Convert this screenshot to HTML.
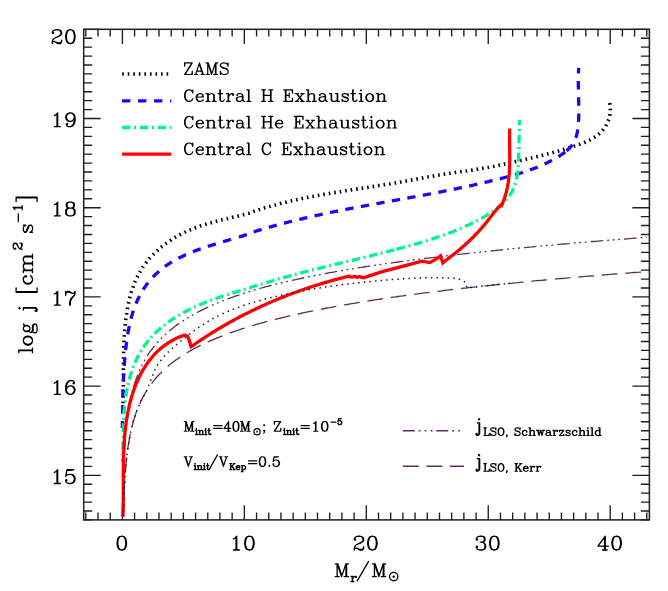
<!DOCTYPE html>
<html><head><meta charset="utf-8"><title>log j vs M_r</title>
<style>html,body{margin:0;padding:0;background:#fff;font-family:"Liberation Sans",sans-serif;}svg{display:block}</style></head>
<body>
<svg width="668" height="591" viewBox="0 0 668 591">
<rect width="100%" height="100%" fill="#fff"/>
<defs><clipPath id="cp"><rect x="84.5" y="30.1" width="564.1" height="486.6"/></clipPath></defs>
<path d="M85.81 519.90 v-7.30 M85.81 29.30 v7.30 M98.01 519.90 v-7.30 M98.01 29.30 v7.30 M110.21 519.90 v-7.30 M110.21 29.30 v7.30 M122.40 519.90 v-14.70 M122.40 29.30 v14.70 M134.59 519.90 v-7.30 M134.59 29.30 v7.30 M146.79 519.90 v-7.30 M146.79 29.30 v7.30 M158.99 519.90 v-7.30 M158.99 29.30 v7.30 M171.18 519.90 v-7.30 M171.18 29.30 v7.30 M183.38 519.90 v-7.30 M183.38 29.30 v7.30 M195.57 519.90 v-7.30 M195.57 29.30 v7.30 M207.77 519.90 v-7.30 M207.77 29.30 v7.30 M219.96 519.90 v-7.30 M219.96 29.30 v7.30 M232.16 519.90 v-7.30 M232.16 29.30 v7.30 M244.35 519.90 v-14.70 M244.35 29.30 v14.70 M256.55 519.90 v-7.30 M256.55 29.30 v7.30 M268.74 519.90 v-7.30 M268.74 29.30 v7.30 M280.94 519.90 v-7.30 M280.94 29.30 v7.30 M293.13 519.90 v-7.30 M293.13 29.30 v7.30 M305.33 519.90 v-7.30 M305.33 29.30 v7.30 M317.52 519.90 v-7.30 M317.52 29.30 v7.30 M329.72 519.90 v-7.30 M329.72 29.30 v7.30 M341.91 519.90 v-7.30 M341.91 29.30 v7.30 M354.11 519.90 v-7.30 M354.11 29.30 v7.30 M366.30 519.90 v-14.70 M366.30 29.30 v14.70 M378.50 519.90 v-7.30 M378.50 29.30 v7.30 M390.69 519.90 v-7.30 M390.69 29.30 v7.30 M402.88 519.90 v-7.30 M402.88 29.30 v7.30 M415.08 519.90 v-7.30 M415.08 29.30 v7.30 M427.27 519.90 v-7.30 M427.27 29.30 v7.30 M439.47 519.90 v-7.30 M439.47 29.30 v7.30 M451.66 519.90 v-7.30 M451.66 29.30 v7.30 M463.86 519.90 v-7.30 M463.86 29.30 v7.30 M476.06 519.90 v-7.30 M476.06 29.30 v7.30 M488.25 519.90 v-14.70 M488.25 29.30 v14.70 M500.45 519.90 v-7.30 M500.45 29.30 v7.30 M512.64 519.90 v-7.30 M512.64 29.30 v7.30 M524.84 519.90 v-7.30 M524.84 29.30 v7.30 M537.03 519.90 v-7.30 M537.03 29.30 v7.30 M549.23 519.90 v-7.30 M549.23 29.30 v7.30 M561.42 519.90 v-7.30 M561.42 29.30 v7.30 M573.62 519.90 v-7.30 M573.62 29.30 v7.30 M585.81 519.90 v-7.30 M585.81 29.30 v7.30 M598.00 519.90 v-7.30 M598.00 29.30 v7.30 M610.20 519.90 v-14.70 M610.20 29.30 v14.70 M622.39 519.90 v-7.30 M622.39 29.30 v7.30 M634.59 519.90 v-7.30 M634.59 29.30 v7.30 M646.78 519.90 v-7.30 M646.78 29.30 v7.30 M83.70 519.90 h8.50 M649.40 519.90 h-8.50 M83.70 510.98 h8.50 M649.40 510.98 h-8.50 M83.70 502.06 h8.50 M649.40 502.06 h-8.50 M83.70 493.14 h8.50 M649.40 493.14 h-8.50 M83.70 484.22 h8.50 M649.40 484.22 h-8.50 M83.70 475.30 h17.00 M649.40 475.30 h-17.00 M83.70 466.38 h8.50 M649.40 466.38 h-8.50 M83.70 457.46 h8.50 M649.40 457.46 h-8.50 M83.70 448.54 h8.50 M649.40 448.54 h-8.50 M83.70 439.62 h8.50 M649.40 439.62 h-8.50 M83.70 430.70 h8.50 M649.40 430.70 h-8.50 M83.70 421.78 h8.50 M649.40 421.78 h-8.50 M83.70 412.86 h8.50 M649.40 412.86 h-8.50 M83.70 403.94 h8.50 M649.40 403.94 h-8.50 M83.70 395.02 h8.50 M649.40 395.02 h-8.50 M83.70 386.10 h17.00 M649.40 386.10 h-17.00 M83.70 377.18 h8.50 M649.40 377.18 h-8.50 M83.70 368.26 h8.50 M649.40 368.26 h-8.50 M83.70 359.34 h8.50 M649.40 359.34 h-8.50 M83.70 350.42 h8.50 M649.40 350.42 h-8.50 M83.70 341.50 h8.50 M649.40 341.50 h-8.50 M83.70 332.58 h8.50 M649.40 332.58 h-8.50 M83.70 323.66 h8.50 M649.40 323.66 h-8.50 M83.70 314.74 h8.50 M649.40 314.74 h-8.50 M83.70 305.82 h8.50 M649.40 305.82 h-8.50 M83.70 296.90 h17.00 M649.40 296.90 h-17.00 M83.70 287.98 h8.50 M649.40 287.98 h-8.50 M83.70 279.06 h8.50 M649.40 279.06 h-8.50 M83.70 270.14 h8.50 M649.40 270.14 h-8.50 M83.70 261.22 h8.50 M649.40 261.22 h-8.50 M83.70 252.30 h8.50 M649.40 252.30 h-8.50 M83.70 243.38 h8.50 M649.40 243.38 h-8.50 M83.70 234.46 h8.50 M649.40 234.46 h-8.50 M83.70 225.54 h8.50 M649.40 225.54 h-8.50 M83.70 216.62 h8.50 M649.40 216.62 h-8.50 M83.70 207.70 h17.00 M649.40 207.70 h-17.00 M83.70 198.78 h8.50 M649.40 198.78 h-8.50 M83.70 189.86 h8.50 M649.40 189.86 h-8.50 M83.70 180.94 h8.50 M649.40 180.94 h-8.50 M83.70 172.02 h8.50 M649.40 172.02 h-8.50 M83.70 163.10 h8.50 M649.40 163.10 h-8.50 M83.70 154.18 h8.50 M649.40 154.18 h-8.50 M83.70 145.26 h8.50 M649.40 145.26 h-8.50 M83.70 136.34 h8.50 M649.40 136.34 h-8.50 M83.70 127.42 h8.50 M649.40 127.42 h-8.50 M83.70 118.50 h17.00 M649.40 118.50 h-17.00 M83.70 109.58 h8.50 M649.40 109.58 h-8.50 M83.70 100.66 h8.50 M649.40 100.66 h-8.50 M83.70 91.74 h8.50 M649.40 91.74 h-8.50 M83.70 82.82 h8.50 M649.40 82.82 h-8.50 M83.70 73.90 h8.50 M649.40 73.90 h-8.50 M83.70 64.98 h8.50 M649.40 64.98 h-8.50 M83.70 56.06 h8.50 M649.40 56.06 h-8.50 M83.70 47.14 h8.50 M649.40 47.14 h-8.50 M83.70 38.22 h8.50 M649.40 38.22 h-8.50 M83.70 29.30 h17.00 M649.40 29.30 h-17.00" stroke="#1e1e1e" stroke-width="1.35" fill="none"/>
<rect x="83.70" y="29.30" width="565.70" height="490.60" fill="none" stroke="#1e1e1e" stroke-width="1.5"/>
<g clip-path="url(#cp)" fill="none" stroke-linejoin="round">
<path d="M123.0 499.7 L123.0 497.6 L123.1 495.6 L123.1 493.6 L123.2 491.5 L123.2 489.5 L123.2 487.5 L123.3 485.4 L123.3 483.4 L123.4 481.4 L123.4 479.3 L123.5 477.3 L123.5 475.3 L123.6 473.2 L123.7 471.2 L123.7 469.2 L123.8 467.1 L123.9 465.1 L124.0 463.1 L124.1 461.0 L124.1 459.0 L124.2 457.0 L124.3 454.9 L124.4 452.9 L124.6 450.9 L124.7 448.8 L124.8 446.8 L124.9 444.8 L125.1 442.7 L125.2 440.7 L125.3 438.7 L125.5 436.6 L125.7 434.6 L125.9 432.6 L126.0 430.5 L126.2 428.5 L126.4 426.5 L126.7 424.5 L126.9 422.4 L127.1 420.4 L127.4 418.4 L127.7 416.3 L127.9 414.3 L128.2 412.3 L128.5 410.2 L128.9 408.2 L129.2 406.2 L129.6 404.1 L130.0 402.1 L130.4 400.1 L130.8 398.0 L131.3 396.0 L131.8 394.0 L132.3 391.9 L132.8 389.9 L133.3 387.9 L133.9 385.8 L134.6 383.8 L135.2 381.8 L135.9 379.7 L136.6 377.7 L137.4 375.7 L138.2 373.6 L139.1 371.6 L140.0 369.6 L140.9 367.5 L141.9 365.5 L142.9 363.5 L144.1 361.4 L145.2 359.4 L146.5 357.4 L147.7 355.3 L149.1 353.2 L150.5 351.2 L152.1 349.1 L153.7 347.0 L155.3 344.9 L157.1 342.9 L159.0 340.8 L161.0 338.7 L163.9 335.8 L166.3 333.6 L168.7 331.4 L171.2 329.4 L173.6 327.5 L176.1 325.6 L178.5 323.9 L180.9 322.2 L183.4 320.6 L185.8 319.0 L188.3 317.5 L190.7 316.1 L193.1 314.7 L195.6 313.3 L198.0 312.0 L200.4 310.8 L202.9 309.6 L205.3 308.4 L207.8 307.2 L210.2 306.1 L212.6 305.1 L215.1 304.0 L217.5 303.0 L220.0 302.0 L222.4 301.0 L224.8 300.0 L227.3 299.1 L229.7 298.2 L232.2 297.3 L234.6 296.4 L237.0 295.6 L239.5 294.8 L241.9 294.0 L244.4 293.2 L246.8 292.4 L249.2 291.6 L251.7 290.9 L254.1 290.1 L256.5 289.4 L259.0 288.7 L261.4 288.0 L263.9 287.3 L266.3 286.7 L268.7 286.0 L271.2 285.4 L273.6 284.8 L276.1 284.2 L278.5 283.6 L280.9 283.0 L283.4 282.4 L285.8 281.8 L288.3 281.3 L290.7 280.7 L293.1 280.2 L295.6 279.6 L298.0 279.1 L300.4 278.6 L302.9 278.0 L305.3 277.5 L307.8 277.0 L310.2 276.5 L312.6 276.0 L315.1 275.5 L317.5 275.1 L320.0 274.6 L322.4 274.1 L324.8 273.7 L327.3 273.2 L329.7 272.7 L332.2 272.3 L334.6 271.9 L337.0 271.4 L339.5 271.0 L341.9 270.6 L344.3 270.2 L346.8 269.7 L349.2 269.3 L351.7 268.9 L354.1 268.5 L356.5 268.1 L359.0 267.7 L361.4 267.4 L363.9 267.0 L366.3 266.6 L368.7 266.2 L371.2 265.8 L373.6 265.5 L376.1 265.1 L378.5 264.8 L380.9 264.4 L383.4 264.0 L385.8 263.7 L388.3 263.3 L390.7 263.0 L393.1 262.7 L395.6 262.3 L398.0 262.0 L400.4 261.6 L402.9 261.3 L405.3 261.0 L407.8 260.7 L410.2 260.3 L412.6 260.0 L415.1 259.7 L417.5 259.4 L420.0 259.1 L422.4 258.8 L424.8 258.5 L427.3 258.2 L429.7 257.9 L432.2 257.6 L434.6 257.3 L437.0 257.0 L439.5 256.7 L441.9 256.4 L444.3 256.1 L446.8 255.8 L449.2 255.5 L451.7 255.3 L454.1 255.0 L456.5 254.7 L459.0 254.4 L461.4 254.2 L463.9 253.9 L466.3 253.6 L468.7 253.3 L471.2 253.1 L473.6 252.8 L476.1 252.5 L478.5 252.3 L480.9 252.0 L483.4 251.7 L485.8 251.5 L488.2 251.2 L490.7 251.0 L493.1 250.7 L495.6 250.5 L498.0 250.2 L500.4 250.0 L502.9 249.7 L505.3 249.5 L507.8 249.2 L510.2 249.0 L512.6 248.7 L515.1 248.5 L517.5 248.3 L520.0 248.0 L522.4 247.8 L524.8 247.6 L527.3 247.3 L529.7 247.1 L532.2 246.9 L534.6 246.6 L537.0 246.4 L539.5 246.2 L541.9 245.9 L544.3 245.7 L546.8 245.5 L549.2 245.3 L551.7 245.1 L554.1 244.8 L556.5 244.6 L559.0 244.4 L561.4 244.2 L563.9 244.0 L566.3 243.8 L568.7 243.6 L571.2 243.3 L573.6 243.1 L576.1 242.9 L578.5 242.7 L580.9 242.5 L583.4 242.3 L585.8 242.1 L588.2 241.9 L590.7 241.7 L593.1 241.5 L595.6 241.3 L598.0 241.1 L600.4 240.9 L602.9 240.7 L605.3 240.5 L607.8 240.3 L610.2 240.1 L612.6 239.9 L615.1 239.7 L617.5 239.6 L620.0 239.4 L622.4 239.2 L624.8 239.0 L627.3 238.8 L629.7 238.6 L632.2 238.4 L634.6 238.2 L637.0 238.1 L639.5 237.9 L641.9 237.7 L644.3 237.5 L646.8 237.3" stroke="#5c2e61" stroke-width="1.3" stroke-dasharray="12.6 4 1.9 3.6 1.9 3.6 1.9 4" stroke-dashoffset="20.21"/>
<path d="M122.9 405.9 L122.9 404.9 L123.0 403.8 L123.0 402.7 L123.0 401.7 L123.1 400.6 L123.1 399.6 L123.1 398.5 L123.2 397.5 L123.2 396.4 L123.2 395.3 L123.2 394.3 L123.2 393.2 L123.3 392.2 L123.3 391.1 L123.3 390.0 L123.3 389.0 L123.3 387.9 L123.3 386.9 L123.3 385.8 L123.3 384.7 L123.4 383.7 L123.4 382.6 L123.4 381.6 L123.4 380.5 L123.4 379.4 L123.4 378.4 L123.4 377.3 L123.4 376.3 L123.4 375.2 L123.4 374.1 L123.4 373.1 L123.4 372.0 L123.4 370.9 L123.4 369.9 L123.4 368.8 L123.4 367.8 L123.4 366.7 L123.4 365.6 L123.4 364.6 L123.4 363.5 L123.5 362.4 L123.5 361.4 L123.5 360.3 L123.5 359.2 L123.5 358.2 L123.5 357.1 L123.5 356.0 L123.6 355.0 L123.6 353.9 L123.6 352.9 L123.6 351.8 L123.7 350.7 L123.7 349.7 L123.7 348.6 L123.7 347.5 L123.8 346.4 L123.8 345.4 L123.9 344.3 L123.9 343.2 L124.0 342.2 L124.0 341.1 L124.1 340.0 L124.1 339.0 L124.2 337.9 L124.2 336.8 L124.3 335.8 L124.4 334.7 L124.5 333.6 L124.5 332.6 L124.6 331.5 L124.7 330.4 L124.8 329.3 L124.9 328.3 L125.0 327.2 L125.1 326.1 L125.2 325.1 L125.3 324.0 L125.4 322.9 L125.5 321.8 L125.7 320.8 L125.8 319.7 L125.9 318.6 L126.1 317.5 L126.2 316.5 L126.3 315.4 L126.5 314.3 L126.7 313.2 L126.8 312.2 L127.0 311.1 L127.2 310.0 L127.4 309.0 L127.6 307.9 L127.8 306.8 L128.0 305.8 L128.2 304.7 L128.4 303.6 L128.6 302.6 L128.9 301.5 L129.1 300.5 L129.3 299.4 L129.6 298.4 L129.9 297.3 L130.1 296.3 L130.4 295.2 L130.7 294.2 L131.0 293.2 L131.3 292.1 L131.6 291.1 L131.9 290.1 L132.3 289.1 L132.6 288.1 L133.0 287.1 L133.3 286.1 L133.7 285.1 L134.1 284.1 L134.5 283.1 L134.9 282.1 L135.3 281.1 L135.7 280.2 L136.1 279.2 L136.6 278.2 L137.0 277.3 L137.5 276.4 L138.0 275.4 L138.4 274.5 L138.9 273.6 L139.5 272.7 L140.0 271.8 L140.5 270.9 L141.1 270.0 L141.6 269.1 L142.2 268.2 L142.7 267.3 L143.3 266.5 L143.9 265.6 L144.5 264.8 L145.2 263.9 L145.8 263.1 L146.4 262.3 L147.1 261.4 L147.7 260.6 L148.4 259.8 L149.1 259.0 L149.7 258.2 L150.4 257.5 L151.1 256.7 L151.9 255.9 L152.6 255.2 L153.3 254.4 L154.0 253.7 L154.8 252.9 L155.6 252.2 L156.3 251.5 L157.1 250.8 L157.9 250.1 L158.7 249.4 L159.5 248.7 L160.3 248.0 L161.1 247.3 L161.9 246.6 L162.7 246.0 L163.5 245.3 L164.4 244.7 L165.2 244.0 L166.1 243.4 L167.0 242.8 L167.8 242.2 L168.7 241.6 L169.6 241.0 L170.5 240.4 L171.4 239.8 L172.3 239.2 L173.2 238.7 L174.1 238.1 L175.0 237.5 L175.9 237.0 L176.8 236.5 L177.8 235.9 L178.7 235.4 L179.7 234.9 L180.6 234.4 L181.6 233.9 L182.5 233.4 L183.5 232.9 L184.4 232.5 L185.4 232.0 L186.4 231.5 L187.4 231.1 L188.4 230.6 L189.3 230.2 L190.3 229.8 L191.3 229.4 L192.3 228.9 L193.3 228.5 L194.3 228.2 L195.3 227.8 L196.4 227.4 L197.4 227.0 L198.4 226.7 L199.4 226.3 L200.4 225.9 L201.5 225.6 L202.5 225.3 L203.5 224.9 L204.5 224.6 L205.6 224.3 L206.6 224.0 L207.7 223.7 L208.7 223.4 L209.7 223.1 L210.8 222.8 L211.8 222.5 L212.9 222.2 L213.9 221.9 L214.9 221.7 L216.0 221.4 L217.0 221.1 L218.1 220.8 L219.1 220.6 L220.2 220.3 L221.2 220.1 L222.3 219.8 L223.3 219.6 L224.4 219.3 L225.4 219.0 L226.4 218.8 L227.5 218.6 L228.5 218.3 L229.6 218.1 L230.6 217.8 L231.6 217.6 L232.7 217.3 L233.7 217.1 L234.8 216.8 L235.8 216.6 L236.8 216.4 L237.8 216.1 L238.9 215.9 L239.9 215.6 L240.9 215.4 L241.9 215.1 L242.9 214.9 L243.9 214.6 L245.0 214.3 L246.0 214.1 L247.0 213.8 L248.0 213.5 L248.9 213.3 L249.9 213.0 L251.2 212.3 L252.5 211.9 L253.7 211.4 L255.0 211.0 L256.2 210.6 L257.5 210.2 L258.7 209.8 L260.0 209.4 L261.2 209.0 L262.5 208.6 L263.8 208.2 L265.0 207.8 L266.3 207.5 L267.5 207.1 L268.8 206.7 L270.1 206.4 L271.3 206.0 L272.6 205.7 L273.9 205.3 L275.1 205.0 L276.4 204.6 L277.7 204.3 L278.9 204.0 L280.2 203.6 L281.5 203.3 L282.8 203.0 L284.0 202.7 L285.3 202.4 L286.6 202.1 L287.9 201.7 L289.2 201.4 L290.4 201.1 L291.7 200.8 L293.0 200.6 L294.3 200.3 L295.6 200.0 L296.8 199.7 L298.1 199.4 L299.4 199.1 L300.7 198.9 L302.0 198.6 L303.3 198.3 L304.6 198.1 L305.8 197.8 L307.1 197.6 L308.4 197.3 L309.7 197.0 L311.0 196.8 L312.3 196.5 L313.6 196.3 L314.9 196.1 L316.2 195.8 L317.5 195.6 L318.8 195.3 L320.0 195.1 L321.3 194.9 L322.6 194.6 L323.9 194.4 L325.2 194.2 L326.5 193.9 L327.8 193.7 L329.1 193.5 L330.4 193.3 L331.7 193.1 L333.0 192.8 L334.3 192.6 L335.6 192.4 L336.9 192.2 L338.2 192.0 L339.5 191.8 L340.8 191.6 L342.1 191.3 L343.4 191.1 L344.7 190.9 L346.0 190.7 L347.3 190.5 L348.6 190.3 L349.9 190.1 L351.2 189.9 L352.5 189.7 L353.8 189.5 L355.1 189.3 L356.4 189.1 L357.7 188.9 L359.0 188.7 L360.3 188.5 L361.6 188.3 L362.9 188.1 L364.2 187.9 L365.5 187.7 L366.8 187.5 L368.1 187.3 L369.4 187.1 L370.7 186.9 L372.0 186.7 L373.3 186.5 L374.6 186.3 L375.9 186.1 L377.2 185.9 L378.5 185.6 L379.8 185.4 L381.1 185.2 L382.4 185.0 L383.7 184.8 L385.0 184.6 L386.3 184.4 L387.6 184.2 L388.9 184.0 L390.2 183.8 L391.5 183.5 L392.8 183.3 L394.1 183.1 L395.4 182.9 L396.7 182.7 L398.0 182.4 L399.3 182.2 L400.6 182.0 L401.9 181.8 L403.2 181.5 L404.5 181.3 L405.8 181.1 L407.1 180.8 L408.4 180.6 L409.6 180.4 L410.9 180.1 L412.2 179.9 L413.5 179.6 L414.8 179.4 L416.1 179.2 L417.4 178.9 L418.7 178.7 L420.0 178.5 L421.3 178.2 L422.6 178.0 L423.9 177.7 L425.2 177.5 L426.4 177.3 L427.7 177.0 L429.0 176.8 L430.3 176.6 L431.6 176.3 L432.9 176.1 L434.2 175.9 L435.5 175.6 L436.8 175.4 L438.1 175.2 L439.4 175.0 L440.7 174.8 L442.0 174.5 L443.3 174.3 L444.6 174.1 L445.9 173.9 L447.2 173.7 L448.5 173.5 L449.8 173.3 L451.1 173.1 L452.4 172.9 L453.7 172.7 L455.0 172.5 L456.3 172.3 L457.6 172.1 L458.9 172.0 L460.2 171.8 L461.5 171.6 L462.8 171.4 L464.1 171.2 L465.4 171.0 L466.7 170.9 L468.0 170.7 L469.4 170.5 L470.7 170.3 L472.0 170.1 L473.3 169.9 L474.6 169.7 L475.9 169.5 L477.2 169.3 L478.5 169.1 L479.8 168.9 L481.1 168.7 L482.4 168.4 L483.7 168.2 L484.9 168.0 L486.2 167.7 L487.5 167.5 L488.8 167.3 L490.1 167.0 L491.4 166.8 L492.7 166.5 L494.0 166.3 L495.3 166.0 L496.6 165.8 L497.8 165.5 L499.1 165.2 L500.4 165.0 L501.7 164.7 L503.0 164.4 L504.3 164.1 L505.6 163.9 L506.8 163.6 L508.1 163.3 L509.4 163.0 L510.7 162.7 L512.0 162.5 L513.2 162.2 L514.5 161.9 L515.8 161.6 L517.1 161.3 L518.3 161.0 L519.6 160.7 L520.9 160.4 L522.2 160.1 L523.5 159.8 L524.7 159.5 L526.0 159.2 L527.3 158.9 L528.6 158.6 L529.8 158.3 L531.1 158.0 L532.4 157.7 L533.7 157.4 L534.9 157.1 L536.2 156.8 L537.5 156.5 L538.7 156.2 L540.0 155.9 L541.3 155.6 L542.6 155.2 L543.8 154.9 L545.1 154.6 L546.4 154.3 L547.7 153.9 L548.9 153.6 L550.2 153.3 L551.5 152.9 L552.7 152.6 L554.0 152.2 L555.3 151.9 L556.6 151.5 L557.8 151.2 L559.1 150.8 L560.4 150.4 L561.6 150.1 L562.9 149.7 L564.2 149.3 L565.5 148.9 L566.7 148.6 L568.0 148.2 L569.3 147.8 L570.5 147.4 L571.8 147.0 L573.1 146.6 L574.4 146.1 L575.6 145.7 L576.9 145.3 L578.2 144.8 L579.4 144.4 L580.7 143.9 L581.9 143.5 L583.2 143.0 L584.4 142.5 L585.6 142.0 L586.8 141.4 L588.0 140.9 L589.2 140.3 L590.4 139.7 L591.5 139.1 L592.6 138.4 L593.7 137.8 L594.8 137.1 L595.9 136.4 L596.9 135.6 L597.9 134.8 L598.9 134.0 L599.8 133.2 L600.7 132.3 L601.6 131.4 L602.5 130.4 L603.3 129.5 L604.0 128.5 L604.8 127.5 L605.5 126.4 L606.1 125.3 L606.7 124.2 L607.3 123.1 L607.8 121.9 L608.3 120.7 L608.8 119.5 L609.1 118.3 L609.5 117.0 L609.7 115.7 L610.0 114.4 L610.1 113.0 L610.3 111.6 L610.3 110.2 L610.3 108.8 L610.2 107.3 L610.1 105.9 L609.9 104.3 L609.7 102.8" stroke="#000" stroke-width="3.6" stroke-dasharray="1.6 3.95" stroke-dashoffset="2.82"/>
<path d="M122.3 428.0 L122.3 426.9 L122.3 425.8 L122.4 424.8 L122.4 423.7 L122.4 422.6 L122.4 421.6 L122.4 420.5 L122.4 419.4 L122.5 418.3 L122.5 417.3 L122.5 416.2 L122.5 415.1 L122.5 414.1 L122.5 413.0 L122.6 411.9 L122.6 410.9 L122.6 409.8 L122.6 408.8 L122.6 407.7 L122.6 406.6 L122.7 405.6 L122.7 404.5 L122.7 403.5 L122.7 402.4 L122.7 401.3 L122.8 400.3 L122.8 399.2 L122.8 398.2 L122.8 397.1 L122.9 396.1 L122.9 395.0 L122.9 393.9 L123.0 392.9 L123.0 391.8 L123.0 390.8 L123.0 389.7 L123.1 388.7 L123.1 387.6 L123.2 386.6 L123.2 385.5 L123.2 384.4 L123.3 383.4 L123.3 382.3 L123.4 381.3 L123.4 380.2 L123.5 379.2 L123.5 378.1 L123.6 377.1 L123.6 376.0 L123.7 374.9 L123.7 373.9 L123.8 372.8 L123.8 371.8 L123.9 370.7 L124.0 369.7 L124.0 368.6 L124.1 367.5 L124.2 366.5 L124.3 365.4 L124.3 364.4 L124.4 363.3 L124.5 362.2 L124.6 361.2 L124.7 360.1 L124.8 359.1 L124.9 358.0 L124.9 356.9 L125.0 355.9 L125.1 354.8 L125.3 353.7 L125.4 352.7 L125.5 351.6 L125.6 350.5 L125.7 349.5 L125.8 348.4 L125.9 347.3 L126.1 346.2 L126.2 345.2 L126.3 344.1 L126.5 343.0 L126.6 341.9 L126.8 340.9 L126.9 339.8 L127.1 338.7 L127.2 337.7 L127.4 336.6 L127.6 335.5 L127.7 334.4 L127.9 333.4 L128.1 332.3 L128.3 331.2 L128.5 330.2 L128.7 329.1 L128.9 328.0 L129.1 327.0 L129.3 325.9 L129.6 324.9 L129.8 323.8 L130.0 322.8 L130.3 321.7 L130.5 320.7 L130.8 319.6 L131.1 318.6 L131.3 317.6 L131.6 316.5 L131.9 315.5 L132.2 314.5 L132.5 313.4 L132.8 312.4 L133.2 311.4 L133.5 310.4 L133.8 309.4 L134.2 308.4 L134.6 307.4 L134.9 306.4 L135.3 305.4 L135.7 304.4 L136.1 303.4 L136.5 302.5 L136.9 301.5 L137.3 300.5 L137.8 299.6 L138.2 298.6 L138.7 297.7 L139.1 296.8 L139.6 295.8 L140.1 294.9 L140.6 294.0 L141.1 293.1 L141.6 292.2 L142.2 291.3 L142.7 290.4 L143.3 289.5 L143.8 288.6 L144.4 287.7 L145.0 286.9 L145.6 286.0 L146.2 285.2 L146.8 284.3 L147.5 283.5 L148.1 282.7 L148.8 281.8 L149.4 281.0 L150.1 280.2 L150.8 279.4 L151.5 278.6 L152.2 277.9 L152.9 277.1 L153.6 276.3 L154.4 275.6 L155.1 274.8 L155.9 274.1 L156.6 273.4 L157.4 272.7 L158.2 272.0 L159.0 271.3 L159.8 270.6 L160.6 269.9 L161.4 269.2 L162.2 268.6 L163.1 267.9 L163.9 267.3 L164.8 266.7 L165.6 266.0 L166.5 265.4 L167.4 264.8 L168.2 264.2 L169.1 263.7 L170.0 263.1 L170.9 262.5 L171.8 262.0 L172.7 261.4 L173.7 260.9 L174.6 260.4 L175.5 259.8 L176.5 259.3 L177.4 258.8 L178.4 258.3 L179.3 257.8 L180.3 257.3 L181.2 256.9 L182.2 256.4 L183.2 255.9 L184.2 255.5 L185.1 255.0 L186.1 254.6 L187.1 254.1 L188.1 253.7 L189.1 253.3 L190.1 252.9 L191.1 252.5 L192.1 252.1 L193.1 251.7 L194.1 251.3 L195.1 250.9 L196.1 250.5 L197.1 250.1 L198.1 249.7 L199.2 249.4 L200.2 249.0 L201.2 248.7 L202.2 248.3 L203.2 247.9 L204.3 247.6 L205.3 247.3 L206.3 246.9 L207.3 246.6 L208.3 246.2 L209.4 245.9 L210.4 245.6 L211.4 245.3 L212.4 244.9 L213.5 244.6 L214.5 244.3 L215.5 244.0 L216.5 243.7 L217.6 243.4 L218.6 243.1 L219.6 242.8 L220.6 242.5 L221.7 242.1 L222.7 241.8 L223.7 241.5 L224.7 241.2 L225.8 240.9 L226.8 240.6 L227.8 240.3 L228.8 240.0 L229.8 239.7 L230.9 239.4 L231.9 239.1 L232.9 238.8" stroke="#2200ff" stroke-width="3.3" stroke-dasharray="8.39441 7.50559" stroke-dashoffset="1.39"/>
<path d="M232.9 238.8 L233.9 238.5 L234.9 238.2 L235.9 237.9 L236.9 237.6 L237.9 237.3 L239.0 237.0 L240.0 236.7 L241.0 236.4 L242.0 236.1 L243.0 235.8 L244.0 235.4 L244.9 235.1 L245.9 234.8 L246.9 234.5 L247.9 234.2 L248.9 233.8 L249.9 233.5 L251.2 232.6 L252.5 232.2 L253.9 231.8 L255.2 231.4 L256.5 231.0 L257.8 230.6 L259.2 230.2 L260.5 229.8 L261.8 229.4 L263.2 229.0 L264.5 228.6 L265.8 228.2 L267.2 227.8 L268.5 227.4 L269.8 227.0 L271.2 226.7 L272.5 226.3 L273.8 225.9 L275.2 225.6 L276.5 225.2 L277.8 224.8 L279.2 224.5 L280.5 224.1 L281.9 223.8 L283.2 223.4 L284.6 223.1 L285.9 222.7 L287.2 222.4 L288.6 222.0 L289.9 221.7 L291.3 221.4 L292.6 221.0 L294.0 220.7 L295.3 220.4 L296.7 220.0 L298.0 219.7 L299.4 219.4 L300.7 219.1 L302.1 218.8 L303.4 218.4 L304.8 218.1 L306.1 217.8 L307.5 217.5 L308.8 217.2 L310.2 216.9 L311.5 216.6 L312.9 216.3 L314.2 216.0 L315.6 215.7 L316.9 215.4 L318.3 215.1 L319.7 214.8 L321.0 214.5 L322.4 214.2 L323.7 213.9 L325.1 213.6 L326.4 213.4 L327.8 213.1 L329.2 212.8 L330.5 212.5 L331.9 212.2 L333.2 211.9 L334.6 211.7 L336.0 211.4 L337.3 211.1 L338.7 210.8 L340.0 210.6 L341.4 210.3 L342.8 210.0 L344.1 209.8 L345.5 209.5 L346.9 209.2 L348.2 209.0 L349.6 208.7 L350.9 208.4 L352.3 208.2 L353.7 207.9 L355.0 207.7 L356.4 207.4 L357.8 207.1 L359.1 206.9 L360.5 206.6 L361.9 206.4 L363.2 206.1 L364.6 205.9 L366.0 205.6 L367.3 205.4 L368.7 205.1 L370.1 204.9 L371.4 204.6 L372.8 204.4 L374.2 204.1 L375.5 203.9 L376.9 203.6 L378.3 203.4 L379.6 203.1 L381.0 202.9 L382.4 202.6 L383.7 202.4 L385.1 202.1 L386.5 201.9 L387.8 201.6 L389.2 201.4 L390.6 201.1 L391.9 200.9 L393.3 200.6 L394.7 200.4 L396.0 200.1 L397.4 199.9 L398.8 199.6 L400.1 199.4 L401.5 199.1 L402.9 198.9 L404.3 198.7 L405.6 198.4 L407.0 198.2 L408.4 197.9 L409.7 197.7 L411.1 197.4 L412.5 197.2 L413.8 196.9 L415.2 196.7 L416.6 196.4 L417.9 196.2 L419.3 195.9 L420.7 195.7 L422.0 195.4 L423.4 195.1 L424.8 194.9 L426.1 194.6 L427.5 194.4 L428.9 194.1 L430.2 193.9 L431.6 193.6 L433.0 193.3 L434.3 193.1 L435.7 192.8 L437.0 192.6 L438.4 192.3 L439.8 192.0 L441.1 191.8 L442.5 191.5 L443.9 191.2 L445.2 191.0 L446.6 190.7 L447.9 190.4 L449.3 190.2 L450.7 189.9 L452.0 189.6 L453.4 189.3 L454.8 189.0 L456.1 188.8 L457.5 188.5 L458.8 188.2 L460.2 187.9 L461.6 187.6 L462.9 187.4 L464.3 187.1 L465.6 186.8 L467.0 186.5 L468.3 186.2 L469.7 185.9 L471.1 185.6 L472.4 185.3 L473.8 185.0 L475.1 184.7 L476.5 184.4 L477.8 184.1 L479.2 183.8 L480.5 183.5 L481.9 183.2 L483.2 182.8 L484.6 182.5 L485.9 182.2 L487.3 181.9 L488.6 181.6 L490.0 181.2 L491.3 180.9 L492.7 180.6 L494.0 180.3 L495.4 179.9 L496.7 179.6 L498.1 179.3 L499.4 178.9 L500.8 178.6 L502.1 178.2 L503.5 177.9 L504.8 177.5 L506.1 177.2 L507.5 176.8 L508.8 176.5 L510.2 176.1 L511.5 175.7 L512.8 175.3 L514.2 175.0 L515.5 174.6 L516.8 174.2 L518.2 173.8 L519.5 173.4 L520.8 173.0 L522.1 172.6 L523.4 172.1 L524.8 171.7 L526.1 171.3 L527.4 170.8 L528.7 170.4 L530.0 169.9 L531.3 169.4 L532.6 169.0 L533.9 168.5 L535.2 168.0 L536.5 167.5 L537.8 166.9 L539.1 166.4 L540.3 165.9 L541.6 165.3 L542.9 164.7 L544.2 164.2 L545.4 163.6 L546.7 163.0 L547.9 162.4 L549.2 161.7 L550.4 161.1 L551.7 160.4 L552.9 159.8 L554.1 159.1 L555.3 158.4 L556.6 157.7 L557.8 157.0 L559.0 156.2 L560.2 155.5 L561.4 154.7 L562.5 153.9 L563.7 153.1 L564.8 152.2 L565.9 151.4" stroke="#2200ff" stroke-width="3.3" stroke-dasharray="8.31522 7.43478" stroke-dashoffset="9.52"/>
<path d="M565.9 151.4 L567.0 150.5 L568.0 149.5 L569.0 148.6 L569.9 147.6 L570.8 146.6 L571.7 145.5 L572.5 144.4 L573.2 143.3 L573.8 142.2 L574.5 141.0 L575.0 139.7 L575.5 138.5 L576.0 137.2 L576.4 135.9 L576.8 134.5 L577.1 133.2 L577.4 131.8 L577.6 130.4 L577.8 129.0 L578.0 127.6 L578.2 126.2 L578.3 124.8 L578.4 123.4 L578.5 121.9 L578.6 120.5 L578.7 119.1 L578.7 117.7 L578.7 116.2 L578.8 114.8 L578.8 113.4 L578.8 112.1 L578.8 110.7 L578.8 109.3 L578.8 107.9 L578.8 106.6 L578.7 105.2 L578.7 103.9 L578.7 102.5 L578.7 101.1 L578.6 99.8 L578.6 98.5 L578.6 97.1 L578.5 95.8 L578.5 94.4 L578.5 93.1 L578.4 91.7 L578.4 90.3 L578.4 89.0 L578.4 87.6 L578.3 86.3 L578.3 84.9 L578.3 83.5 L578.3 82.1 L578.3 80.7 L578.3 79.3 L578.3 77.9 L578.4 76.5 L578.4 75.1 L578.4 73.7 L578.5 72.2 L578.5 70.8 L578.6 69.3 L578.7 67.8" stroke="#2200ff" stroke-width="3.3" stroke-dasharray="8.5528 7.6472" stroke-dashoffset="15.40"/>
<path d="M122.6 461.8 L122.6 460.8 L122.7 459.8 L122.7 458.9 L122.7 457.9 L122.8 456.9 L122.8 455.9 L122.8 454.9 L122.8 453.9 L122.9 452.9 L122.9 451.9 L122.9 450.9 L122.9 449.9 L122.9 448.9 L123.0 447.9 L123.0 446.9 L123.0 445.9 L123.0 444.9 L123.0 443.9 L123.0 442.9 L123.1 441.9 L123.1 440.9 L123.1 439.9 L123.1 438.9 L123.1 437.8 L123.1 436.8 L123.2 435.8 L123.2 434.8 L123.2 433.8 L123.2 432.7 L123.2 431.7 L123.3 430.7 L123.3 429.7 L123.3 428.6 L123.3 427.6 L123.4 426.6 L123.4 425.6 L123.4 424.5 L123.5 423.5 L123.5 422.5 L123.6 421.5 L123.6 420.4 L123.7 419.4 L123.7 418.4 L123.8 417.3 L123.8 416.3 L123.9 415.3 L123.9 414.3 L124.0 413.2 L124.1 412.2 L124.2 411.2 L124.2 410.1 L124.3 409.1 L124.4 408.1 L124.5 407.1 L124.6 406.0 L124.7 405.0 L124.8 404.0 L124.9 402.9 L125.1 401.9 L125.2 400.9 L125.3 399.9 L125.4 398.8 L125.6 397.8 L125.7 396.8 L125.9 395.8 L126.0 394.8 L126.2 393.7 L126.4 392.7 L126.6 391.7 L126.7 390.7 L126.9 389.7 L127.1 388.7 L127.3 387.6 L127.5 386.6 L127.8 385.6 L128.0 384.6 L128.2 383.6 L128.5 382.6 L128.7 381.6 L128.9 380.6 L129.2 379.6 L129.5 378.6 L129.7 377.7 L130.0 376.7 L130.3 375.7 L130.6 374.7 L130.9 373.7 L131.2 372.8 L131.5 371.8 L131.9 370.8 L132.2 369.9 L132.5 368.9 L132.9 368.0 L133.2 367.0 L133.6 366.1 L134.0 365.1 L134.4 364.2 L134.8 363.3 L135.2 362.3 L135.6 361.4 L136.0 360.5 L136.4 359.6 L136.8 358.7 L137.3 357.8 L137.7 356.9 L138.2 356.0 L138.6 355.1 L139.1 354.2 L139.6 353.3 L140.1 352.5 L140.6 351.6 L141.1 350.8 L141.6 349.9 L142.2 349.1 L142.7 348.2 L143.3 347.4 L143.8 346.6 L144.4 345.8 L145.0 345.0 L145.6 344.2 L146.2 343.4 L146.8 342.6 L147.4 341.8 L148.0 341.0 L148.6 340.2 L149.3 339.5 L149.9 338.7 L150.6 338.0 L151.3 337.2 L151.9 336.5 L152.6 335.8 L153.3 335.0 L154.0 334.3 L154.7 333.6 L155.4 332.9 L156.2 332.2 L156.9 331.5 L157.6 330.8 L158.4 330.2 L159.1 329.5 L159.9 328.8 L160.6 328.2 L161.4 327.5 L162.2 326.9 L163.0 326.2 L163.8 325.6 L164.6 325.0 L165.4 324.3 L166.2 323.7 L167.0 323.1 L167.8 322.5 L168.6 321.9 L169.5 321.3 L170.3 320.7 L171.2 320.2 L172.0 319.6 L172.9 319.0 L173.7 318.4 L174.6 317.9 L175.4 317.3 L176.3 316.8 L177.2 316.3 L178.1 315.7 L178.9 315.2 L179.8 314.7 L180.7 314.2 L181.6 313.6 L182.5 313.1 L183.4 312.6 L184.3 312.1 L185.2 311.7 L186.2 311.2 L187.1 310.7 L188.0 310.2 L188.9 309.8 L189.8 309.3 L190.8 308.8 L191.7 308.4 L192.6 307.9 L193.6 307.5 L194.5 307.1 L195.4 306.6 L196.4 306.2 L197.3 305.8 L198.3 305.4 L199.2 305.0 L200.2 304.6 L201.1 304.2 L202.1 303.8 L203.0 303.4 L204.0 303.0 L204.9 302.6 L205.9 302.2 L206.8 301.8 L207.8 301.5 L208.8 301.1 L209.7 300.7 L210.7 300.4 L211.6 300.0 L212.6 299.7 L213.6 299.3 L214.5 299.0 L215.5 298.6 L216.5 298.3 L217.4 298.0 L218.4 297.6 L219.4 297.3 L220.4 297.0 L221.3 296.6 L222.3 296.3 L223.3 296.0 L224.2 295.7 L225.2 295.3 L226.2 295.0 L227.2 294.7 L228.1 294.4 L229.1 294.1 L230.1 293.8 L231.1 293.5 L232.0 293.2 L233.0 292.9 L234.0 292.6 L234.9 292.3 L235.9 292.0 L236.9 291.7 L237.8 291.4 L238.8 291.1 L239.8 290.8 L240.7 290.5 L241.7 290.2 L242.7 289.9 L243.6 289.6 L244.6 289.3 L245.6 289.0 L246.5 288.7 L247.5 288.4 L248.4 288.1 L249.4 287.8 L250.4 287.5 L251.3 287.2 L252.3 286.9 L253.2 286.6 L254.2 286.3 L255.1 286.0 L256.1 285.7 L257.0 285.4 L257.9 285.1 L258.9 284.8 L259.8 284.5 L261.1 284.2 L262.2 283.9 L263.3 283.5 L264.4 283.2 L265.5 282.9 L266.6 282.5 L267.8 282.2 L268.9 281.9 L270.0 281.5 L271.1 281.2 L272.2 280.9 L273.3 280.5 L274.4 280.2 L275.5 279.9 L276.6 279.6 L277.7 279.3 L278.8 278.9 L279.9 278.6 L281.0 278.3 L282.2 278.0 L283.3 277.7 L284.4 277.4 L285.5 277.1 L286.6 276.8 L287.7 276.5 L288.8 276.2 L289.9 275.9 L291.1 275.6 L292.2 275.3 L293.3 275.0 L294.4 274.7 L295.5 274.4 L296.6 274.1 L297.7 273.8 L298.9 273.5 L300.0 273.2 L301.1 272.9 L302.2 272.6 L303.3 272.3 L304.5 272.0 L305.6 271.7 L306.7 271.4 L307.8 271.2 L308.9 270.9 L310.1 270.6 L311.2 270.3 L312.3 270.0 L313.4 269.7 L314.5 269.5 L315.7 269.2 L316.8 268.9 L317.9 268.6 L319.0 268.3 L320.1 268.1 L321.3 267.8 L322.4 267.5 L323.5 267.2 L324.6 267.0 L325.8 266.7 L326.9 266.4 L328.0 266.1 L329.1 265.9 L330.3 265.6 L331.4 265.3 L332.5 265.0 L333.6 264.8 L334.8 264.5 L335.9 264.2 L337.0 263.9 L338.1 263.7 L339.3 263.4 L340.4 263.1 L341.5 262.9 L342.6 262.6 L343.7 262.3 L344.9 262.0 L346.0 261.8 L347.1 261.5 L348.2 261.2 L349.4 261.0 L350.5 260.7 L351.6 260.4 L352.7 260.2 L353.9 259.9 L355.0 259.6 L356.1 259.3 L357.2 259.1 L358.4 258.8 L359.5 258.5 L360.6 258.3 L361.7 258.0 L362.9 257.7 L364.0 257.4 L365.1 257.2 L366.2 256.9 L367.4 256.6 L368.5 256.3 L369.6 256.1 L370.7 255.8 L371.8 255.5 L373.0 255.2 L374.1 255.0 L375.2 254.7 L376.3 254.4 L377.5 254.1 L378.6 253.8 L379.7 253.6 L380.8 253.3 L381.9 253.0 L383.1 252.7 L384.2 252.4 L385.3 252.2 L386.4 251.9 L387.5 251.6 L388.7 251.3 L389.8 251.0 L390.9 250.7 L392.0 250.4 L393.1 250.2 L394.2 249.9 L395.4 249.6" stroke="#00f492" stroke-width="3.3" stroke-dasharray="8.55169 3.57978 1.88933 3.67921" stroke-dashoffset="5.57"/>
<path d="M395.4 249.6 L396.5 249.3 L397.6 249.0 L398.7 248.7 L399.8 248.4 L400.9 248.1 L402.0 247.8 L403.2 247.5 L404.3 247.2 L405.4 246.9 L406.5 246.6 L407.6 246.3 L408.7 246.0 L409.8 245.7 L410.9 245.4 L412.0 245.1 L413.2 244.8 L414.3 244.4 L415.4 244.1 L416.5 243.8 L417.6 243.5 L418.7 243.2 L419.8 242.8 L420.9 242.5 L422.0 242.2 L423.1 241.8 L424.2 241.5 L425.3 241.2 L426.4 240.8 L427.5 240.5 L428.6 240.2 L429.7 239.8 L430.8 239.5 L431.9 239.1 L433.0 238.7 L434.1 238.4 L435.2 238.0 L436.3 237.7 L437.3 237.3 L438.4 236.9 L439.5 236.5 L440.6 236.2 L441.7 235.8 L442.8 235.4 L443.9 235.0 L445.0 234.6 L446.0 234.2 L447.1 233.8 L448.2 233.4 L449.3 233.0 L450.3 232.6 L451.4 232.2 L452.5 231.7 L453.6 231.3 L454.6 230.9 L455.7 230.4 L456.8 230.0 L457.9 229.6 L458.9 229.1 L460.0 228.7 L461.0 228.2 L462.1 227.7 L463.2 227.3 L464.2 226.8 L465.3 226.3 L466.3 225.8 L467.4 225.4 L468.5 224.9 L469.5 224.4 L470.6 223.9 L471.6 223.4 L472.7 222.8 L473.7 222.3 L474.7 221.8 L475.8 221.3 L476.8 220.7 L477.9 220.2 L478.9 219.6 L479.9 219.1 L481.0 218.5 L482.0 218.0 L483.0 217.4 L484.1 216.8 L485.1 216.2 L486.1 215.6 L487.1 215.0 L488.1 214.4 L489.1 213.8 L490.1 213.2 L491.1 212.5 L492.1 211.9 L493.0 211.2 L494.0 210.6 L494.9 209.9 L495.8 209.2 L496.8 208.5 L497.7 207.8 L498.6 207.1 L499.4 206.4 L500.3 205.6 L501.2 204.9 L502.0 204.1 L502.8 203.3 L503.6 202.6 L504.4 201.8 L505.2 200.9 L505.9 200.1 L506.7 199.3 L507.4 198.4 L508.1 197.6 L508.7 196.7 L509.4 195.8 L510.0 194.9 L510.6 193.9 L511.2 193.0 L511.7 192.0 L512.3 191.0 L512.8 190.1 L513.2 189.0 L513.7 188.0 L514.1 187.0 L514.5 185.9 L514.9 184.8 L515.2 183.7 L515.6 182.6 L515.9 181.5 L516.1 180.4 L516.4 179.3 L516.7 178.1 L516.9 177.0 L517.1 175.8 L517.3 174.6 L517.4 173.4 L517.6 172.3 L517.8 171.1 L517.9 169.9 L518.0 168.7 L518.1 167.5 L518.2 166.2 L518.3 165.0 L518.4 163.8 L518.4 162.6 L518.5 161.4 L518.5 160.2 L518.6 159.0 L518.6 157.8 L518.6 156.6 L518.7 155.4 L518.7 154.2 L518.7 153.0 L518.7 151.8 L518.8 150.6 L518.8 149.5 L518.8 148.3 L518.8 147.2 L518.9 146.0 L518.9 144.9 L518.9 143.8 L519.0 142.6 L519.0 141.5 L519.0 140.4 L519.1 139.3 L519.1 138.2 L519.1 137.1 L519.2 136.0 L519.2 134.9 L519.2 133.8 L519.3 132.7 L519.3 131.6 L519.3 130.5 L519.3 129.3 L519.3 128.2 L519.4 127.1 L519.4 125.9 L519.4 124.7 L519.4 123.6 L519.4 122.4 L519.4 121.2 L519.3 119.9" stroke="#00f492" stroke-width="3.3" stroke-dasharray="8.74494 3.66067 1.93202 3.76236" stroke-dashoffset="16.92"/>
<path d="M122.7 521.7 L122.8 520.1 L122.9 518.3 L122.9 516.6 L123.0 514.9 L123.0 513.2 L123.1 511.5 L123.1 509.8 L123.2 508.0 L123.2 506.3 L123.2 504.6 L123.2 502.8 L123.3 501.1 L123.3 499.3 L123.3 497.6 L123.3 495.8 L123.3 494.1 L123.3 492.3 L123.3 490.5 L123.3 488.8 L123.3 487.0 L123.3 485.2 L123.3 483.4 L123.3 481.7 L123.3 479.9 L123.3 478.1 L123.3 476.3 L123.3 474.5 L123.3 472.8 L123.3 471.0 L123.3 469.2 L123.4 467.4 L123.4 465.6 L123.4 463.8 L123.4 462.0 L123.5 460.2 L123.5 458.5 L123.6 456.7 L123.6 454.9 L123.7 453.1 L123.7 451.3 L123.8 449.5 L123.9 447.7 L124.0 445.9 L124.1 444.2 L124.2 442.4 L124.3 440.6 L124.4 438.8 L124.6 437.0 L124.7 435.3 L124.9 433.5 L125.0 431.7 L125.2 430.0 L125.4 428.2 L125.6 426.4 L125.9 424.7 L126.1 422.9 L126.3 421.2 L126.6 419.4 L126.9 417.7 L127.2 416.0 L127.5 414.2 L127.8 412.5 L128.2 410.8 L128.5 409.0 L128.9 407.3 L129.3 405.6 L129.7 403.9 L130.1 402.2 L130.6 400.5 L131.0 398.8 L131.5 397.1 L132.0 395.4 L132.6 393.8 L133.1 392.1 L133.7 390.4 L134.3 388.8 L134.9 387.1 L135.5 385.5 L136.2 383.9 L136.9 382.2 L137.6 380.6 L138.3 379.0 L139.0 377.5 L139.8 375.9 L140.6 374.3 L141.4 372.8 L142.3 371.2 L143.2 369.7 L144.1 368.2 L145.0 366.8 L145.9 365.3 L146.9 363.9 L147.9 362.4 L149.0 361.0 L150.0 359.7 L151.1 358.3 L152.2 357.0 L153.4 355.7 L154.5 354.4 L155.7 353.1 L157.0 351.9 L158.2 350.7 L159.5 349.5 L160.9 348.3 L162.2 347.2 L163.6 346.1 L165.0 345.1 L166.5 344.1 L167.9 343.1 L169.4 342.1 L171.0 341.2 L172.6 340.3 L174.2 339.4 L175.8 338.6 L177.5 337.8 L179.2 337.1 L181.0 336.4 L182.8 335.7 L184.6 335.1 L184.2 335.1 L187.6 336.2 L189.8 341.8 L191.0 346.8 L191.1 346.9 L192.3 346.0 L193.5 345.2 L194.6 344.3 L195.8 343.5 L197.0 342.7 L198.2 341.8 L199.4 341.0 L200.7 340.2 L201.9 339.4 L203.1 338.6 L204.3 337.8 L205.5 337.0 L206.7 336.2 L208.0 335.4 L209.2 334.6 L210.4 333.8 L211.7 333.0 L212.9 332.3 L214.2 331.5 L215.4 330.7 L216.6 330.0 L217.9 329.2 L219.1 328.5 L220.4 327.7 L221.7 327.0 L222.9 326.2 L224.2 325.5 L225.5 324.8 L226.7 324.0 L228.0 323.3 L229.3 322.6 L230.5 321.9 L231.8 321.2 L233.1 320.5 L234.4 319.8 L235.7 319.1 L237.0 318.4 L238.3 317.7 L239.6 317.0 L240.8 316.3 L242.1 315.7 L243.4 315.0 L244.8 314.3 L246.1 313.7 L247.4 313.0 L248.7 312.4 L250.0 311.7 L251.3 311.1 L252.6 310.4 L253.9 309.8 L255.3 309.2 L256.6 308.5 L257.9 307.9 L259.2 307.3 L260.6 306.7 L261.9 306.1 L263.2 305.5 L264.6 304.9 L265.9 304.3 L267.2 303.7 L268.6 303.1 L269.9 302.5 L271.3 301.9 L272.6 301.3 L274.0 300.8 L275.3 300.2 L276.7 299.6 L278.0 299.1 L279.4 298.5 L280.7 298.0 L282.1 297.4 L283.5 296.9 L284.8 296.4 L286.2 295.8 L287.6 295.3 L288.9 294.8 L290.3 294.2 L291.7 293.7 L293.0 293.2 L294.4 292.7 L295.8 292.2 L297.2 291.7 L298.5 291.2 L299.9 290.7 L301.3 290.2 L302.7 289.8 L304.1 289.3 L305.4 288.8 L306.8 288.3 L308.2 287.9 L309.6 287.4 L311.0 286.9 L312.4 286.5 L313.8 286.0 L315.2 285.6 L316.6 285.2 L318.0 284.7 L319.4 284.3 L320.8 283.9 L322.2 283.4 L323.5 283.0 L324.9 282.6 L326.4 282.2 L327.8 281.8 L329.2 281.4 L330.6 281.0 L332.0 280.6 L333.4 280.2 L334.8 279.8 L336.2 279.4 L337.6 279.1 L339.0 278.7 L340.4 278.3 L341.8 277.9 L343.2 277.6 L344.6 277.2 L346.1 276.9 L347.5 276.5 L348.9 276.2 L349.0 276.6 L352.0 277.1 L354.5 276.5 L357.0 277.2 L359.5 276.7 L362.0 277.4 L363.7 277.8 L370.0 275.6 L382.4 271.6 L403.4 266.2 L412.7 263.6 L422.2 261.2 L429.6 262.6 L434.8 259.9 L440.6 255.9 L442.9 262.9 L447.0 259.5 L447.0 259.5 L448.0 258.7 L449.1 257.9 L450.1 257.1 L451.2 256.3 L452.2 255.5 L453.3 254.7 L454.3 253.9 L455.3 253.1 L456.3 252.2 L457.4 251.4 L458.4 250.6 L459.4 249.7 L460.4 248.9 L461.4 248.0 L462.4 247.1 L463.4 246.3 L464.4 245.4 L465.3 244.5 L466.3 243.6 L467.3 242.8 L468.2 241.9 L469.2 241.0 L470.2 240.1 L471.1 239.1 L472.0 238.2 L473.0 237.3 L473.9 236.4 L474.8 235.4 L475.7 234.5 L476.6 233.5 L477.5 232.6 L478.4 231.6 L479.3 230.7 L480.2 229.7 L481.1 228.7 L481.9 227.7 L482.8 226.7 L483.7 225.7 L484.5 224.7 L485.3 223.7 L486.2 222.7 L487.0 221.7 L487.8 220.6 L488.6 219.6 L489.4 218.5 L490.2 217.5 L491.0 216.4 L491.8 215.4 L492.6 214.4 L493.4 213.3 L494.2 212.3 L495.0 211.3 L495.9 210.3 L496.7 209.3 L497.6 208.4 L498.5 207.4 L499.4 206.5 L500.4 205.6 L501.3 204.7 L501.7 205.1 L502.2 203.8 L502.8 202.6 L503.3 201.4 L503.8 200.2 L504.2 198.9 L504.6 197.7 L505.1 196.4 L505.4 195.2 L505.8 193.9 L506.2 192.6 L506.5 191.4 L506.8 190.1 L507.1 188.8 L507.4 187.5 L507.6 186.2 L507.8 185.0 L508.1 183.7 L508.3 182.4 L508.4 181.1 L508.6 179.8 L508.8 178.5 L508.9 177.2 L509.0 175.9 L509.2 174.6 L509.3 173.2 L509.3 171.9 L509.4 170.6 L509.5 169.3 L509.6 168.0 L509.6 166.6 L509.6 165.3 L509.7 164.0 L509.7 162.7 L509.7 161.4 L509.7 160.0 L509.8 158.7 L509.8 157.4 L509.8 156.0 L509.7 154.7 L509.7 153.4 L509.7 152.1 L509.7 150.7 L509.7 149.4 L509.7 148.1 L509.7 146.8 L509.6 145.4 L509.6 144.1 L509.6 142.8 L509.6 141.5 L509.6 140.2 L509.6 138.9 L509.6 137.5 L509.6 136.2 L509.6 134.9 L509.6 133.6 L509.6 132.3 L509.6 131.0 L509.7 129.7 L509.7 128.4" stroke="#ff0000" stroke-width="3.3" stroke-linejoin="miter"/>
<path d="M123.0 533.3 L123.0 531.2 L123.1 529.2 L123.1 527.2 L123.2 525.2 L123.2 523.1 L123.2 521.1 L123.3 519.1 L123.3 517.0 L123.4 515.0 L123.4 513.0 L123.5 510.9 L123.5 508.9 L123.6 506.9 L123.7 504.8 L123.7 502.8 L123.8 500.8 L123.9 498.7 L124.0 496.7 L124.1 494.7 L124.1 492.6 L124.2 490.6 L124.3 488.6 L124.4 486.5 L124.6 484.5 L124.7 482.5 L124.8 480.4 L124.9 478.4 L125.1 476.4 L125.2 474.3 L125.3 472.3 L125.5 470.3 L125.7 468.2 L125.9 466.2 L126.0 464.2 L126.2 462.1 L126.4 460.1 L126.7 458.1 L126.9 456.0 L127.1 454.0 L127.4 452.0 L127.7 450.0 L127.9 447.9 L128.2 445.9 L128.5 443.9 L128.9 441.8 L129.2 439.8 L129.6 437.8 L130.0 435.7 L130.4 433.7 L130.8 431.7 L131.3 429.6 L131.8 427.6 L132.3 425.6 L132.8 423.5 L133.3 421.5 L133.9 419.5 L134.6 417.4 L135.2 415.4 L135.9 413.4 L136.6 411.3 L137.4 409.3 L138.2 407.3 L139.1 405.2 L140.0 403.2 L140.9 401.2 L141.9 399.1 L142.9 397.1 L144.1 395.1 L145.2 393.0 L146.5 391.0 L147.7 389.0 L149.1 386.9 L150.5 384.9 L152.1 382.9 L153.7 380.8 L155.3 378.8 L157.1 376.8 L159.0 374.8 L161.0 372.7 L163.9 369.9 L166.3 367.7 L168.7 365.6 L171.2 363.6 L173.6 361.7 L176.1 359.9 L178.5 358.2 L180.9 356.6 L183.4 355.0 L185.8 353.5 L188.3 352.0 L190.7 350.6 L193.1 349.2 L195.6 347.9 L198.0 346.6 L200.4 345.4 L202.9 344.2 L205.3 343.1 L207.8 341.9 L210.2 340.8 L212.6 339.8 L215.1 338.8 L217.5 337.7 L220.0 336.8 L222.4 335.8 L224.8 334.9 L227.3 334.0 L229.7 333.1 L232.2 332.2 L234.6 331.4 L237.0 330.5 L239.5 329.7 L241.9 328.9 L244.4 328.1 L246.8 327.4 L249.2 326.6 L251.7 325.9 L254.1 325.1 L256.5 324.4 L259.0 323.7 L261.4 323.0 L263.9 322.4 L266.3 321.7 L268.7 321.1 L271.2 320.4 L273.6 319.8 L276.1 319.2 L278.5 318.6 L280.9 318.0 L283.4 317.4 L285.8 316.8 L288.3 316.2 L290.7 315.6 L293.1 315.1 L295.6 314.5 L298.0 314.0 L300.4 313.5 L302.9 312.9 L305.3 312.4 L307.8 311.9 L310.2 311.4 L312.6 310.9 L315.1 310.4 L317.5 309.9 L320.0 309.4 L322.4 309.0 L324.8 308.5 L327.3 308.0 L329.7 307.6 L332.2 307.1 L334.6 306.7 L337.0 306.2 L339.5 305.8 L341.9 305.3 L344.3 304.9 L346.8 304.5 L349.2 304.1 L351.7 303.7 L354.1 303.3 L356.5 302.8 L359.0 302.4 L361.4 302.1 L363.9 301.7 L366.3 301.3 L368.7 300.9 L371.2 300.5 L373.6 300.1 L376.1 299.7 L378.5 299.4 L380.9 299.0 L383.4 298.6 L385.8 298.3 L388.3 297.9 L390.7 297.6 L393.1 297.2 L395.6 296.9 L398.0 296.5 L400.4 296.2 L402.9 295.9 L405.3 295.5 L407.8 295.2 L410.2 294.9 L412.6 294.5 L415.1 294.2 L417.5 293.9 L420.0 293.6 L422.4 293.2 L424.8 292.9 L427.3 292.6 L429.7 292.3 L432.2 292.0 L434.6 291.7 L437.0 291.4 L439.5 291.1 L441.9 290.8 L444.3 290.5 L446.8 290.2 L449.2 289.9 L451.7 289.6 L454.1 289.4 L456.5 289.1 L459.0 288.8 L461.4 288.5 L463.9 288.2 L466.3 288.0 L468.7 287.7 L471.2 287.4 L473.6 287.1 L476.1 286.9 L478.5 286.6 L480.9 286.3 L483.4 286.1 L485.8 285.8 L488.2 285.6 L490.7 285.3 L493.1 285.0 L495.6 284.8 L498.0 284.5 L500.4 284.3 L502.9 284.0 L505.3 283.8 L507.8 283.5 L510.2 283.3 L512.6 283.1 L515.1 282.8 L517.5 282.6 L520.0 282.3 L522.4 282.1 L524.8 281.9 L527.3 281.6 L529.7 281.4 L532.2 281.2 L534.6 280.9 L537.0 280.7 L539.5 280.5 L541.9 280.3 L544.3 280.0 L546.8 279.8 L549.2 279.6 L551.7 279.4 L554.1 279.1 L556.5 278.9 L559.0 278.7 L561.4 278.5 L563.9 278.3 L566.3 278.1 L568.7 277.9 L571.2 277.6 L573.6 277.4 L576.1 277.2 L578.5 277.0 L580.9 276.8 L583.4 276.6 L585.8 276.4 L588.2 276.2 L590.7 276.0 L593.1 275.8 L595.6 275.6 L598.0 275.4 L600.4 275.2 L602.9 275.0 L605.3 274.8 L607.8 274.6 L610.2 274.4 L612.6 274.2 L615.1 274.0 L617.5 273.8 L620.0 273.6 L622.4 273.5 L624.8 273.3 L627.3 273.1 L629.7 272.9 L632.2 272.7 L634.6 272.5 L637.0 272.3 L639.5 272.2 L641.9 272.0 L644.3 271.8 L646.8 271.6" stroke="#5c2e61" stroke-width="1.3" stroke-dasharray="15.7 7.9" stroke-dashoffset="10.31"/>
<path d="M123.0 533.3 L123.0 531.2 L123.1 529.2 L123.1 527.2 L123.2 525.2 L123.2 523.1 L123.2 521.1 L123.3 519.1 L123.3 517.0 L123.4 515.0 L123.4 513.0 L123.5 510.9 L123.5 508.9 L123.6 506.9 L123.7 504.8 L123.7 502.8 L123.8 500.8 L123.9 498.7 L124.0 496.7 L124.1 494.7 L124.1 492.6 L124.2 490.6 L124.3 488.6 L124.4 486.5 L124.6 484.5 L124.7 482.5 L124.8 480.4 L124.9 478.4 L125.1 476.4 L125.2 474.3 L125.3 472.3 L125.5 470.3 L125.7 468.2 L125.9 466.2 L126.0 464.2 L126.2 462.1 L126.4 460.1 L126.7 458.1 L126.9 456.0 L127.1 454.0 L127.4 452.0 L127.7 450.0 L127.9 447.9 L128.2 445.9 L128.5 443.9 L128.9 441.8 L129.2 439.8 L129.6 437.8 L130.0 435.7 L130.4 433.7 L130.8 431.7 L131.3 429.6 L131.8 427.6 L132.3 425.6 L132.8 423.5 L133.3 421.5 L133.9 419.5 L134.6 417.4 L135.2 415.4 L135.9 413.4 L136.6 411.3 L137.4 409.3 L138.2 407.3 L139.1 405.2 L140.0 403.2 L140.9 401.2 L141.9 399.1 L142.9 397.1 L144.1 395.1 L145.2 393.0 L146.5 391.0 L155.7 368.0 L156.4 366.7 L157.2 365.5 L158.0 364.2 L158.8 363.0 L159.7 361.9 L160.6 360.7 L161.5 359.6 L162.4 358.4 L163.3 357.3 L164.3 356.2 L165.3 355.2 L166.3 354.1 L167.3 353.1 L168.4 352.0 L169.4 351.0 L170.5 350.0 L171.6 349.0 L172.7 348.0 L173.8 347.0 L174.9 346.0 L176.0 345.1 L177.2 344.1 L178.3 343.2 L179.4 342.2 L180.6 341.3 L181.7 340.3 L182.9 339.4 L184.0 338.5 L185.2 337.6 L186.3 336.6 L187.5 335.7 L188.7 334.8 L189.9 333.9 L191.0 333.0 L192.2 332.2 L193.4 331.3 L194.6 330.4 L195.8 329.6 L197.0 328.7 L198.2 327.9 L199.4 327.0 L200.6 326.2 L201.9 325.4 L203.1 324.6 L204.3 323.8 L205.6 323.0 L206.8 322.2 L208.1 321.5 L209.3 320.7 L210.6 320.0 L211.9 319.2 L213.2 318.5 L214.4 317.8 L215.7 317.1 L217.0 316.5 L218.3 315.8 L219.7 315.1 L221.0 314.5 L222.3 313.9 L223.6 313.2 L225.0 312.6 L226.3 312.0 L227.7 311.5 L229.0 310.9 L230.4 310.3 L231.8 309.8 L233.1 309.2 L234.5 308.7 L235.9 308.2 L237.3 307.7 L238.7 307.2 L240.0 306.7 L241.4 306.2 L242.8 305.7 L244.2 305.2 L245.7 304.8 L247.1 304.3 L248.5 303.9 L249.9 303.4 L251.3 303.0 L252.7 302.6 L254.1 302.1 L255.6 301.7 L257.0 301.3 L258.4 300.9 L259.8 300.5 L261.3 300.1 L262.7 299.7 L264.1 299.4 L265.5 299.0 L267.0 298.6 L268.4 298.2 L269.8 297.9 L271.3 297.5 L272.7 297.2 L274.1 296.8 L275.6 296.5 L277.0 296.1 L278.4 295.8 L279.9 295.5 L281.3 295.1 L282.7 294.8 L284.2 294.5 L285.6 294.2 L287.0 293.9 L288.5 293.6 L289.9 293.3 L291.4 293.0 L292.8 292.7 L294.2 292.4 L295.7 292.1 L297.1 291.8 L298.6 291.5 L300.0 291.2 L301.4 291.0 L302.9 290.7 L304.3 290.4 L305.8 290.2 L307.2 289.9 L308.7 289.7 L310.1 289.4 L311.6 289.2 L313.0 288.9 L314.5 288.7 L315.9 288.5 L317.4 288.2 L318.8 288.0 L320.3 287.8 L321.7 287.5 L323.2 287.3 L324.6 287.1 L326.1 286.9 L327.5 286.7 L329.0 286.5 L330.5 286.3 L331.9 286.1 L333.4 285.9 L334.8 285.7 L336.3 285.5 L337.7 285.3 L339.2 285.1 L340.7 284.9 L342.1 284.7 L343.6 284.5 L345.1 284.3 L346.5 284.2 L348.0 284.0 L349.4 283.8 L350.9 283.6 L352.4 283.5 L353.8 283.3 L355.3 283.1 L356.8 283.0 L358.2 282.8 L359.7 282.7 L361.2 282.5 L362.6 282.4 L364.1 282.2 L365.6 282.1 L367.0 281.9 L368.5 281.8 L370.0 281.6 L371.5 281.5 L372.9 281.3 L374.4 281.2 L375.9 281.0 L377.3 280.9 L378.8 280.8 L380.3 280.6 L381.8 280.5 L383.2 280.4 L384.7 280.2 L386.2 280.1 L387.7 280.0 L389.1 279.9 L390.6 279.7 L392.1 279.6 L393.6 279.5 L395.1 279.4 L396.5 279.3 L398.0 279.2 L399.5 279.0 L401.0 278.9 L402.4 278.8 L403.9 278.7 L405.4 278.6 L406.9 278.6 L408.4 278.5 L409.8 278.4 L411.3 278.3 L412.8 278.2 L414.3 278.2 L415.7 278.1 L417.2 278.0 L418.7 278.0 L420.2 277.9 L421.6 277.9 L423.1 277.8 L424.6 277.8 L426.1 277.7 L427.5 277.7 L429.0 277.7 L430.5 277.7 L431.9 277.7 L433.4 277.7 L434.9 277.7 L436.3 277.7 L437.8 277.7 L439.3 277.7 L440.7 277.7 L442.2 277.8 L443.7 277.8 L445.1 277.8 L446.6 277.9 L448.1 277.9 L449.5 278.0 L451.0 278.1 L452.4 278.2 L453.9 278.3 L455.3 278.4 L456.7 278.6 L458.1 278.9 L459.4 279.2 L460.8 279.7 L462.0 280.2 L463.2 280.9 L464.4 281.7 L465.4 282.7 L466.4 283.8 L466.8 287.9 L468.3 287.7 L469.8 287.6 L471.3 287.4 L472.8 287.2 L474.2 287.1 L475.7 286.9 L477.2 286.7 L478.7 286.6 L480.2 286.4 L481.7 286.3 L483.2 286.1 L484.7 285.9 L486.2 285.8 L487.7 285.6 L489.1 285.5 L490.6 285.3 L492.1 285.2 L493.6 285.0 L495.1 284.8 L496.6 284.7 L498.1 284.5 L499.6 284.4 L501.1 284.2 L502.6 284.1 L504.0 283.9 L505.5 283.8 L507.0 283.6 L508.5 283.5 L510.0 283.3" stroke="#2c1236" stroke-width="1.5" stroke-dasharray="1.5 4.1"/>
</g>
<path transform="translate(115.12 550.00) scale(0.668 0.655)" d="M11 0 L14 -1 L16 -4 L17 -9 L17 -12 L16 -17 L14 -20 L11 -21 L9 -21 L6 -20 L4 -17 L3 -12 L3 -9 L4 -4 L6 -1 L9 0 L7 -1 L6 -2 L5 -4 L4 -9 L4 -12 L5 -17 L6 -19 L7 -20 L9 -21 M11 0 L9 0 M11 0 L13 -1 L14 -2 L15 -4 L16 -9 L16 -12 L15 -17 L14 -19 L13 -20 L11 -21" fill="none" stroke="#000" stroke-width="1.3" vector-effect="non-scaling-stroke" stroke-linecap="round" stroke-linejoin="round"/>
<path transform="translate(229.39 550.00) scale(0.668 0.655)" d="M11 0 L11 -21 L8 -18 L6 -17 M10 -20 L10 0 M6 0 L15 0 M31 0 L34 -1 L36 -4 L37 -9 L37 -12 L36 -17 L34 -20 L31 -21 L29 -21 L26 -20 L24 -17 L23 -12 L23 -9 L24 -4 L26 -1 L29 0 L27 -1 L26 -2 L25 -4 L24 -9 L24 -12 L25 -17 L26 -19 L27 -20 L29 -21 M31 0 L29 0 M31 0 L33 -1 L34 -2 L35 -4 L36 -9 L36 -12 L35 -17 L34 -19 L33 -20 L31 -21" fill="none" stroke="#000" stroke-width="1.3" vector-effect="non-scaling-stroke" stroke-linecap="round" stroke-linejoin="round"/>
<path transform="translate(352.34 550.00) scale(0.668 0.655)" d="M6 -3 L11 0 L15 0 L16 -1 L17 -3 L17 -5 M6 -3 L11 -1 L14 -1 L16 -2 L17 -3 M6 -3 L4 -3 L3 -2 M8 -9 L13 -11 L16 -13 L17 -15 L17 -17 L16 -19 L15 -20 L12 -21 L8 -21 L5 -20 L4 -19 L3 -17 L3 -16 L4 -15 L5 -16 L4 -17 M12 -21 L14 -20 L15 -19 L16 -17 L16 -15 L15 -13 L12 -11 L6 -8 L4 -6 L3 -3 L3 0 M31 0 L34 -1 L36 -4 L37 -9 L37 -12 L36 -17 L34 -20 L31 -21 L29 -21 L26 -20 L24 -17 L23 -12 L23 -9 L24 -4 L26 -1 L29 0 L27 -1 L26 -2 L25 -4 L24 -9 L24 -12 L25 -17 L26 -19 L27 -20 L29 -21 M31 0 L29 0 M31 0 L33 -1 L34 -2 L35 -4 L36 -9 L36 -12 L35 -17 L34 -19 L33 -20 L31 -21" fill="none" stroke="#000" stroke-width="1.3" vector-effect="non-scaling-stroke" stroke-linecap="round" stroke-linejoin="round"/>
<path transform="translate(474.29 550.00) scale(0.668 0.655)" d="M12 0 L8 0 L5 -1 L4 -2 L3 -4 L3 -5 L4 -6 L5 -5 L4 -4 M12 0 L15 -1 L16 -2 L17 -4 L17 -7 L16 -9 L14 -11 L12 -12 L15 -13 L16 -15 L16 -18 L15 -20 L12 -21 L8 -21 L5 -20 L4 -19 L3 -17 L3 -16 L4 -15 L5 -16 L4 -17 M12 0 L14 -1 L15 -2 L16 -4 L16 -7 L15 -10 M12 -21 L14 -20 L15 -18 L15 -15 L14 -13 L12 -12 L9 -12 M31 0 L34 -1 L36 -4 L37 -9 L37 -12 L36 -17 L34 -20 L31 -21 L29 -21 L26 -20 L24 -17 L23 -12 L23 -9 L24 -4 L26 -1 L29 0 L27 -1 L26 -2 L25 -4 L24 -9 L24 -12 L25 -17 L26 -19 L27 -20 L29 -21 M31 0 L29 0 M31 0 L33 -1 L34 -2 L35 -4 L36 -9 L36 -12 L35 -17 L34 -19 L33 -20 L31 -21" fill="none" stroke="#000" stroke-width="1.3" vector-effect="non-scaling-stroke" stroke-linecap="round" stroke-linejoin="round"/>
<path transform="translate(596.57 550.00) scale(0.668 0.655)" d="M13 0 L13 -21 L2 -6 L18 -6 M12 -19 L12 0 M9 0 L16 0 M31 0 L34 -1 L36 -4 L37 -9 L37 -12 L36 -17 L34 -20 L31 -21 L29 -21 L26 -20 L24 -17 L23 -12 L23 -9 L24 -4 L26 -1 L29 0 L27 -1 L26 -2 L25 -4 L24 -9 L24 -12 L25 -17 L26 -19 L27 -20 L29 -21 M31 0 L29 0 M31 0 L33 -1 L34 -2 L35 -4 L36 -9 L36 -12 L35 -17 L34 -19 L33 -20 L31 -21" fill="none" stroke="#000" stroke-width="1.3" vector-effect="non-scaling-stroke" stroke-linecap="round" stroke-linejoin="round"/>
<path transform="translate(50.33 483.50) scale(0.668 0.655)" d="M11 0 L11 -21 L8 -18 L6 -17 M10 -20 L10 0 M6 0 L15 0 M25 -20 L30 -20 L35 -21 L25 -21 L23 -11 L25 -13 L28 -14 L31 -14 L34 -13 L36 -11 L37 -8 L37 -6 L36 -3 L34 -1 L31 0 L28 0 L25 -1 L24 -2 L23 -4 L23 -5 L24 -6 L25 -5 L24 -4 M31 0 L33 -1 L35 -3 L36 -6 L36 -8 L35 -11 L33 -13 L31 -14" fill="none" stroke="#000" stroke-width="1.3" vector-effect="non-scaling-stroke" stroke-linecap="round" stroke-linejoin="round"/>
<path transform="translate(50.33 394.30) scale(0.668 0.655)" d="M11 0 L11 -21 L8 -18 L6 -17 M10 -20 L10 0 M6 0 L15 0 M31 0 L34 -1 L36 -3 L37 -6 L37 -7 L36 -10 L34 -12 L31 -13 L30 -13 L27 -12 L25 -10 L24 -7 M31 0 L29 0 L26 -1 L24 -3 L23 -6 L23 -12 L24 -16 L25 -18 L27 -20 L30 -21 L33 -21 L35 -20 L36 -18 L36 -17 L35 -16 L34 -17 L35 -18 M31 0 L33 -1 L35 -3 L36 -6 L36 -7 L35 -10 L33 -12 L31 -13 M30 -21 L28 -20 L26 -18 L25 -16 L24 -12 L24 -6 L25 -3 L27 -1 L29 0" fill="none" stroke="#000" stroke-width="1.3" vector-effect="non-scaling-stroke" stroke-linecap="round" stroke-linejoin="round"/>
<path transform="translate(50.33 305.10) scale(0.668 0.655)" d="M11 0 L11 -21 L8 -18 L6 -17 M10 -20 L10 0 M6 0 L15 0 M36 -15 L31 -10 L30 -8 L29 -5 L29 0 M36 -15 L32 -10 L31 -8 L30 -5 L30 0 M36 -15 L37 -18 L37 -21 L36 -19 L35 -18 L33 -18 L28 -21 L26 -21 L24 -19 L26 -20 L28 -20 L33 -18 M23 -21 L23 -15 M24 -19 L23 -17" fill="none" stroke="#000" stroke-width="1.3" vector-effect="non-scaling-stroke" stroke-linecap="round" stroke-linejoin="round"/>
<path transform="translate(50.33 215.90) scale(0.668 0.655)" d="M11 0 L11 -21 L8 -18 L6 -17 M10 -20 L10 0 M6 0 L15 0 M28 0 L32 0 L35 -1 L36 -2 L37 -4 L37 -8 L36 -10 L35 -11 L32 -12 L28 -12 L25 -11 L24 -10 L23 -8 L23 -4 L24 -2 L25 -1 L28 0 L26 -1 L25 -2 L24 -4 L24 -8 L25 -10 L26 -11 L28 -12 L25 -13 L24 -15 L24 -18 L25 -20 L28 -21 L32 -21 L35 -20 L36 -18 L36 -15 L35 -13 L32 -12 L34 -11 L35 -10 L36 -8 L36 -4 L35 -2 L34 -1 L32 0 M28 -12 L26 -13 L25 -15 L25 -18 L26 -20 L28 -21 M32 -12 L34 -13 L35 -15 L35 -18 L34 -20 L32 -21" fill="none" stroke="#000" stroke-width="1.3" vector-effect="non-scaling-stroke" stroke-linecap="round" stroke-linejoin="round"/>
<path transform="translate(50.33 126.70) scale(0.668 0.655)" d="M11 0 L11 -21 L8 -18 L6 -17 M10 -20 L10 0 M6 0 L15 0 M36 -14 L35 -11 L33 -9 L30 -8 L29 -8 L26 -9 L24 -11 L23 -14 L23 -15 L24 -18 L26 -20 L29 -21 L31 -21 L34 -20 L36 -18 L37 -15 L37 -9 L36 -5 L35 -3 L33 -1 L30 0 L27 0 L25 -1 L24 -3 L24 -4 L25 -5 L26 -4 L25 -3 M30 0 L32 -1 L34 -3 L35 -5 L36 -9 L36 -15 L35 -18 L33 -20 L31 -21 M29 -21 L27 -20 L25 -18 L24 -15 L24 -14 L25 -11 L27 -9 L29 -8" fill="none" stroke="#000" stroke-width="1.3" vector-effect="non-scaling-stroke" stroke-linecap="round" stroke-linejoin="round"/>
<path transform="translate(50.33 43.50) scale(0.668 0.655)" d="M6 -3 L11 0 L15 0 L16 -1 L17 -3 L17 -5 M6 -3 L11 -1 L14 -1 L16 -2 L17 -3 M6 -3 L4 -3 L3 -2 M8 -9 L13 -11 L16 -13 L17 -15 L17 -17 L16 -19 L15 -20 L12 -21 L8 -21 L5 -20 L4 -19 L3 -17 L3 -16 L4 -15 L5 -16 L4 -17 M12 -21 L14 -20 L15 -19 L16 -17 L16 -15 L15 -13 L12 -11 L6 -8 L4 -6 L3 -3 L3 0 M31 0 L34 -1 L36 -4 L37 -9 L37 -12 L36 -17 L34 -20 L31 -21 L29 -21 L26 -20 L24 -17 L23 -12 L23 -9 L24 -4 L26 -1 L29 0 L27 -1 L26 -2 L25 -4 L24 -9 L24 -12 L25 -17 L26 -19 L27 -20 L29 -21 M31 0 L29 0 M31 0 L33 -1 L34 -2 L35 -4 L36 -9 L36 -12 L35 -17 L34 -19 L33 -20 L31 -21" fill="none" stroke="#000" stroke-width="1.3" vector-effect="non-scaling-stroke" stroke-linecap="round" stroke-linejoin="round"/>
<path transform="translate(333.99 576.60) scale(0.63 0.61)" d="M19 -21 L12 0 L5 -21 L5 0 M19 -21 L19 0 M19 -21 L23 -21 M20 -21 L20 0 M12 -3 L6 -21 L2 -21 M16 0 L23 0 M2 0 L8 0" fill="none" stroke="#000" stroke-width="1.3" vector-effect="non-scaling-stroke" stroke-linecap="round" stroke-linejoin="round"/>
<path transform="translate(350.11 581.60) scale(0.42 0.37)" d="M6 0 L6 -14 L2 -14 M5 -14 L5 0 M2 0 L9 0 M6 -8 L7 -11 L9 -13 L11 -14 L14 -14 L15 -13 L15 -12 L14 -11 L13 -12 L14 -13" fill="none" stroke="#000" stroke-width="1.3" vector-effect="non-scaling-stroke" stroke-linecap="round" stroke-linejoin="round"/>
<path transform="translate(355.99 576.60) scale(0.63 0.61)" d="M20 -25 L2 7" fill="none" stroke="#000" stroke-width="1.3" vector-effect="non-scaling-stroke" stroke-linecap="round" stroke-linejoin="round"/>
<path transform="translate(371.29 576.60) scale(0.63 0.61)" d="M19 -21 L12 0 L5 -21 L5 0 M19 -21 L19 0 M19 -21 L23 -21 M20 -21 L20 0 M12 -3 L6 -21 L2 -21 M16 0 L23 0 M2 0 L8 0" fill="none" stroke="#000" stroke-width="1.3" vector-effect="non-scaling-stroke" stroke-linecap="round" stroke-linejoin="round"/>
<circle cx="393.70" cy="576.60" r="4.20" fill="none" stroke="#000" stroke-width="1.35"/><circle cx="393.70" cy="576.60" r="1.18" fill="#000"/>
<path transform="translate(32.50 353.90) rotate(-90) scale(0.635 0.655)" d="M6 0 L6 -21 L2 -21 M5 -21 L5 0 M2 0 L9 0 M22 0 L25 -1 L27 -3 L28 -6 L28 -8 L27 -11 L25 -13 L22 -14 L20 -14 L17 -13 L15 -11 L14 -8 L14 -6 L15 -3 L17 -1 L20 0 L22 0 L24 -1 L26 -3 L27 -6 L27 -8 L26 -11 L24 -13 L22 -14 M20 -14 L18 -13 L16 -11 L15 -8 L15 -6 L16 -3 L18 -1 L20 0 M37 0 L34 1 L33 3 L33 4 L34 6 L37 7 L43 7 L46 6 L47 4 L47 3 L46 1 L43 0 L38 0 L35 -1 L34 -2 L35 0 L38 1 L43 1 L46 2 L47 3 M45 -13 L47 -14 L47 -13 L45 -13 L44 -12 L45 -10 L45 -8 L44 -6 L43 -5 L44 -7 L44 -11 L43 -13 L41 -14 L39 -14 L37 -13 L36 -11 L36 -7 L37 -5 L39 -4 L41 -4 L43 -5 M44 -12 L43 -13 M37 -13 L36 -12 L35 -10 L35 -8 L36 -6 L35 -5 L34 -3 L34 -2 M37 -5 L36 -6 M72 -14 L72 4 L71 6 L70 7 L72 6 L73 4 L73 -14 L69 -14 M70 7 L68 7 L67 6 L67 5 L68 4 L69 5 L68 6 M73 -20 L72 -19 L71 -20 L72 -21 L73 -20 M98 -25 L98 7 M104 7 L97 7 L97 -25 L104 -25 M116 -14 L113 -13 L111 -11 L110 -8 L110 -6 L111 -3 L113 -1 L116 0 L118 0 L121 -1 L123 -3 M116 -14 L119 -14 L121 -13 L123 -11 L123 -10 L122 -9 L121 -10 L122 -11 M116 -14 L114 -13 L112 -11 L111 -8 L111 -6 L112 -3 L114 -1 L116 0 M132 0 L132 -14 L128 -14 M131 -14 L131 0 M154 0 L154 -11 L153 -13 L150 -14 L148 -14 L145 -13 L143 -11 L143 0 M153 0 L153 -11 L152 -13 L150 -14 M143 -11 L142 -13 L139 -14 L137 -14 L134 -13 L132 -11 M142 0 L142 -11 L141 -13 L139 -14 M150 0 L157 0 M139 0 L146 0 M128 0 L135 0" fill="none" stroke="#000" stroke-width="1.3" vector-effect="non-scaling-stroke" stroke-linecap="round" stroke-linejoin="round"/>
<path transform="translate(22.20 250.43) rotate(-90) scale(0.43 0.43)" d="M6 -3 L11 0 L15 0 L16 -1 L17 -3 L17 -5 M6 -3 L11 -1 L14 -1 L16 -2 L17 -3 M6 -3 L4 -3 L3 -2 M8 -9 L13 -11 L16 -13 L17 -15 L17 -17 L16 -19 L15 -20 L12 -21 L8 -21 L5 -20 L4 -19 L3 -17 L3 -16 L4 -15 L5 -16 L4 -17 M12 -21 L14 -20 L15 -19 L16 -17 L16 -15 L15 -13 L12 -11 L6 -8 L4 -6 L3 -3 L3 0" fill="none" stroke="#000" stroke-width="1.3" vector-effect="non-scaling-stroke" stroke-linecap="round" stroke-linejoin="round"/>
<path transform="translate(32.50 234.13) rotate(-90) scale(0.635 0.655)" d="M13 -12 L14 -14 L14 -10 L13 -12 L12 -13 L10 -14 L6 -14 L4 -13 L3 -12 L3 -10 L4 -9 L6 -8 L11 -6 L13 -5 L14 -4 M4 -2 L3 0 L3 -4 L4 -2 L5 -1 L7 0 L11 0 L13 -1 L14 -2 L14 -5 L13 -6 L11 -7 L6 -9 L4 -10 L3 -11" fill="none" stroke="#000" stroke-width="1.3" vector-effect="non-scaling-stroke" stroke-linecap="round" stroke-linejoin="round"/>
<path transform="translate(22.20 223.34) rotate(-90) scale(0.43 0.43)" d="M4 -9 L22 -9 M37 0 L37 -21 L34 -18 L32 -17 M36 -20 L36 0 M32 0 L41 0" fill="none" stroke="#000" stroke-width="1.3" vector-effect="non-scaling-stroke" stroke-linecap="round" stroke-linejoin="round"/>
<path transform="translate(32.50 203.56) rotate(-90) scale(0.635 0.655)" d="M9 -25 L9 7 M3 7 L10 7 L10 -25 L3 -25" fill="none" stroke="#000" stroke-width="1.3" vector-effect="non-scaling-stroke" stroke-linecap="round" stroke-linejoin="round"/>
<path transform="translate(182.92 74.50) scale(0.551 0.551)" d="M4 0 L17 -21 L3 -21 L3 -15 L4 -21 M16 -21 L3 0 L17 0 L17 -6 L16 0 M37 0 L30 -21 L23 0 M30 -18 L36 0 M25 -6 L34 -6 M33 0 L39 0 M21 0 L27 0 M59 -21 L52 0 L45 -21 L45 0 M59 -21 L59 0 M59 -21 L63 -21 M60 -21 L60 0 M52 -3 L46 -21 L42 -21 M56 0 L63 0 M42 0 L48 0 M82 -7 L82 -3 L80 -1 L77 0 L74 0 L71 -1 L69 -3 L68 0 L68 -6 L69 -3 M82 -7 L80 -9 L78 -10 L72 -12 L70 -13 L69 -14 L68 -16 L70 -14 L72 -13 L78 -11 L80 -10 L81 -9 L82 -7 M81 -18 L82 -21 L82 -15 L81 -18 L79 -20 L76 -21 L73 -21 L70 -20 L68 -18 L68 -16" fill="none" stroke="#000" stroke-width="1.15" vector-effect="non-scaling-stroke" stroke-linecap="round" stroke-linejoin="round"/>
<path transform="translate(182.92 101.40) scale(0.551 0.551)" d="M17 -18 L18 -21 L18 -15 L17 -18 L15 -20 L12 -21 L10 -21 L7 -20 L5 -18 L4 -16 L3 -13 L3 -8 L4 -5 L5 -3 L7 -1 L10 0 L12 0 L15 -1 L17 -3 L18 -5 M10 -21 L8 -20 L6 -18 L5 -16 L4 -13 L4 -8 L5 -5 L6 -3 L8 -1 L10 0 M25 -8 L37 -8 L37 -10 L36 -12 L35 -13 L36 -11 L36 -8 M25 -8 L26 -11 L28 -13 L30 -14 L27 -13 L25 -11 L24 -8 L24 -6 L25 -3 L27 -1 L30 0 L32 0 L35 -1 L37 -3 M25 -8 L25 -6 L26 -3 L28 -1 L30 0 M30 -14 L33 -14 L35 -13 M46 0 L46 -14 L42 -14 M45 -14 L45 0 M57 0 L57 -11 L56 -13 L53 -14 L51 -14 L48 -13 L46 -11 M56 0 L56 -11 L55 -13 L53 -14 M53 0 L60 0 M42 0 L49 0 M68 -21 L68 -4 L69 -1 L70 0 L68 -1 L67 -4 L67 -21 M64 -14 L72 -14 M75 -3 L74 -1 L72 0 L70 0 M83 0 L83 -14 L79 -14 M82 -14 L82 0 M79 0 L86 0 M83 -8 L84 -11 L86 -13 L88 -14 L91 -14 L92 -13 L92 -12 L91 -11 L90 -12 L91 -13 M108 -12 L108 -3 L106 -1 L104 0 L101 0 L98 -1 L97 -3 L97 -5 L98 -7 L101 -8 L107 -9 L108 -10 M108 -12 L109 -10 L109 -3 L110 -1 L111 0 L109 -1 L108 -3 M108 -12 L107 -13 L105 -14 L101 -14 L99 -13 L98 -12 L98 -11 L99 -11 L99 -12 M101 -8 L99 -7 L98 -5 L98 -3 L99 -1 L101 0 M111 0 L112 0 M120 0 L120 -21 L116 -21 M119 -21 L119 0 M116 0 L123 0 M160 -21 L160 0 M159 -21 L159 0 M147 -21 L147 0 M146 -21 L146 0 M147 -11 L159 -11 M156 0 L163 0 M156 -21 L163 -21 M143 0 L150 0 M143 -21 L150 -21 M187 -21 L187 0 M186 -21 L186 0 M183 0 L199 0 L199 -6 L198 0 M183 -21 L199 -21 L199 -15 L198 -21 M193 -15 L193 -7 M187 -11 L193 -11 M218 -14 L206 0 M207 -14 L218 0 M206 -14 L217 0 M214 0 L220 0 M214 -14 L220 -14 M204 0 L210 0 M204 -14 L210 -14 M228 0 L228 -21 L224 -21 M227 -21 L227 0 M239 0 L239 -11 L238 -13 L235 -14 L233 -14 L230 -13 L228 -11 M238 0 L238 -11 L237 -13 L235 -14 M235 0 L242 0 M224 0 L231 0 M258 -12 L258 -3 L256 -1 L254 0 L251 0 L248 -1 L247 -3 L247 -5 L248 -7 L251 -8 L257 -9 L258 -10 M258 -12 L259 -10 L259 -3 L260 -1 L261 0 L259 -1 L258 -3 M258 -12 L257 -13 L255 -14 L251 -14 L249 -13 L248 -12 L248 -11 L249 -11 L249 -12 M251 -8 L249 -7 L248 -5 L248 -3 L249 -1 L251 0 M261 0 L262 0 M281 0 L281 -14 L277 -14 M280 -14 L280 0 L284 0 M269 -14 L269 -3 L270 -1 L273 0 L271 -1 L270 -3 L270 -14 L266 -14 M273 0 L275 0 L278 -1 L280 -3 M299 -12 L300 -14 L300 -10 L299 -12 L298 -13 L296 -14 L292 -14 L290 -13 L289 -12 L289 -10 L290 -9 L292 -8 L297 -6 L299 -5 L300 -4 M290 -2 L289 0 L289 -4 L290 -2 L291 -1 L293 0 L297 0 L299 -1 L300 -2 L300 -5 L299 -6 L297 -7 L292 -9 L290 -10 L289 -11 M309 -21 L309 -4 L310 -1 L311 0 L309 -1 L308 -4 L308 -21 M305 -14 L313 -14 M316 -3 L315 -1 L313 0 L311 0 M324 0 L324 -14 L320 -14 M323 -14 L323 0 M320 0 L327 0 M324 -20 L323 -19 L322 -20 L323 -21 L324 -20 M340 0 L343 -1 L345 -3 L346 -6 L346 -8 L345 -11 L343 -13 L340 -14 L338 -14 L335 -13 L333 -11 L332 -8 L332 -6 L333 -3 L335 -1 L338 0 L340 0 L342 -1 L344 -3 L345 -6 L345 -8 L344 -11 L342 -13 L340 -14 M338 -14 L336 -13 L334 -11 L333 -8 L333 -6 L334 -3 L336 -1 L338 0 M355 0 L355 -14 L351 -14 M354 -14 L354 0 M366 0 L366 -11 L365 -13 L362 -14 L360 -14 L357 -13 L355 -11 M365 0 L365 -11 L364 -13 L362 -14 M362 0 L369 0 M351 0 L358 0" fill="none" stroke="#000" stroke-width="1.15" vector-effect="non-scaling-stroke" stroke-linecap="round" stroke-linejoin="round"/>
<path transform="translate(182.92 128.00) scale(0.551 0.551)" d="M17 -18 L18 -21 L18 -15 L17 -18 L15 -20 L12 -21 L10 -21 L7 -20 L5 -18 L4 -16 L3 -13 L3 -8 L4 -5 L5 -3 L7 -1 L10 0 L12 0 L15 -1 L17 -3 L18 -5 M10 -21 L8 -20 L6 -18 L5 -16 L4 -13 L4 -8 L5 -5 L6 -3 L8 -1 L10 0 M25 -8 L37 -8 L37 -10 L36 -12 L35 -13 L36 -11 L36 -8 M25 -8 L26 -11 L28 -13 L30 -14 L27 -13 L25 -11 L24 -8 L24 -6 L25 -3 L27 -1 L30 0 L32 0 L35 -1 L37 -3 M25 -8 L25 -6 L26 -3 L28 -1 L30 0 M30 -14 L33 -14 L35 -13 M46 0 L46 -14 L42 -14 M45 -14 L45 0 M57 0 L57 -11 L56 -13 L53 -14 L51 -14 L48 -13 L46 -11 M56 0 L56 -11 L55 -13 L53 -14 M53 0 L60 0 M42 0 L49 0 M68 -21 L68 -4 L69 -1 L70 0 L68 -1 L67 -4 L67 -21 M64 -14 L72 -14 M75 -3 L74 -1 L72 0 L70 0 M83 0 L83 -14 L79 -14 M82 -14 L82 0 M79 0 L86 0 M83 -8 L84 -11 L86 -13 L88 -14 L91 -14 L92 -13 L92 -12 L91 -11 L90 -12 L91 -13 M108 -12 L108 -3 L106 -1 L104 0 L101 0 L98 -1 L97 -3 L97 -5 L98 -7 L101 -8 L107 -9 L108 -10 M108 -12 L109 -10 L109 -3 L110 -1 L111 0 L109 -1 L108 -3 M108 -12 L107 -13 L105 -14 L101 -14 L99 -13 L98 -12 L98 -11 L99 -11 L99 -12 M101 -8 L99 -7 L98 -5 L98 -3 L99 -1 L101 0 M111 0 L112 0 M120 0 L120 -21 L116 -21 M119 -21 L119 0 M116 0 L123 0 M160 -21 L160 0 M159 -21 L159 0 M147 -21 L147 0 M146 -21 L146 0 M147 -11 L159 -11 M156 0 L163 0 M156 -21 L163 -21 M143 0 L150 0 M143 -21 L150 -21 M169 -8 L181 -8 L181 -10 L180 -12 L179 -13 L180 -11 L180 -8 M169 -8 L170 -11 L172 -13 L174 -14 L171 -13 L169 -11 L168 -8 L168 -6 L169 -3 L171 -1 L174 0 L176 0 L179 -1 L181 -3 M169 -8 L169 -6 L170 -3 L172 -1 L174 0 M174 -14 L177 -14 L179 -13 M206 -21 L206 0 M205 -21 L205 0 M202 0 L218 0 L218 -6 L217 0 M202 -21 L218 -21 L218 -15 L217 -21 M212 -15 L212 -7 M206 -11 L212 -11 M237 -14 L225 0 M226 -14 L237 0 M225 -14 L236 0 M233 0 L239 0 M233 -14 L239 -14 M223 0 L229 0 M223 -14 L229 -14 M247 0 L247 -21 L243 -21 M246 -21 L246 0 M258 0 L258 -11 L257 -13 L254 -14 L252 -14 L249 -13 L247 -11 M257 0 L257 -11 L256 -13 L254 -14 M254 0 L261 0 M243 0 L250 0 M277 -12 L277 -3 L275 -1 L273 0 L270 0 L267 -1 L266 -3 L266 -5 L267 -7 L270 -8 L276 -9 L277 -10 M277 -12 L278 -10 L278 -3 L279 -1 L280 0 L278 -1 L277 -3 M277 -12 L276 -13 L274 -14 L270 -14 L268 -13 L267 -12 L267 -11 L268 -11 L268 -12 M270 -8 L268 -7 L267 -5 L267 -3 L268 -1 L270 0 M280 0 L281 0 M300 0 L300 -14 L296 -14 M299 -14 L299 0 L303 0 M288 -14 L288 -3 L289 -1 L292 0 L290 -1 L289 -3 L289 -14 L285 -14 M292 0 L294 0 L297 -1 L299 -3 M318 -12 L319 -14 L319 -10 L318 -12 L317 -13 L315 -14 L311 -14 L309 -13 L308 -12 L308 -10 L309 -9 L311 -8 L316 -6 L318 -5 L319 -4 M309 -2 L308 0 L308 -4 L309 -2 L310 -1 L312 0 L316 0 L318 -1 L319 -2 L319 -5 L318 -6 L316 -7 L311 -9 L309 -10 L308 -11 M328 -21 L328 -4 L329 -1 L330 0 L328 -1 L327 -4 L327 -21 M324 -14 L332 -14 M335 -3 L334 -1 L332 0 L330 0 M343 0 L343 -14 L339 -14 M342 -14 L342 0 M339 0 L346 0 M343 -20 L342 -19 L341 -20 L342 -21 L343 -20 M359 0 L362 -1 L364 -3 L365 -6 L365 -8 L364 -11 L362 -13 L359 -14 L357 -14 L354 -13 L352 -11 L351 -8 L351 -6 L352 -3 L354 -1 L357 0 L359 0 L361 -1 L363 -3 L364 -6 L364 -8 L363 -11 L361 -13 L359 -14 M357 -14 L355 -13 L353 -11 L352 -8 L352 -6 L353 -3 L355 -1 L357 0 M374 0 L374 -14 L370 -14 M373 -14 L373 0 M385 0 L385 -11 L384 -13 L381 -14 L379 -14 L376 -13 L374 -11 M384 0 L384 -11 L383 -13 L381 -14 M381 0 L388 0 M370 0 L377 0" fill="none" stroke="#000" stroke-width="1.15" vector-effect="non-scaling-stroke" stroke-linecap="round" stroke-linejoin="round"/>
<path transform="translate(182.92 154.60) scale(0.551 0.551)" d="M17 -18 L18 -21 L18 -15 L17 -18 L15 -20 L12 -21 L10 -21 L7 -20 L5 -18 L4 -16 L3 -13 L3 -8 L4 -5 L5 -3 L7 -1 L10 0 L12 0 L15 -1 L17 -3 L18 -5 M10 -21 L8 -20 L6 -18 L5 -16 L4 -13 L4 -8 L5 -5 L6 -3 L8 -1 L10 0 M25 -8 L37 -8 L37 -10 L36 -12 L35 -13 L36 -11 L36 -8 M25 -8 L26 -11 L28 -13 L30 -14 L27 -13 L25 -11 L24 -8 L24 -6 L25 -3 L27 -1 L30 0 L32 0 L35 -1 L37 -3 M25 -8 L25 -6 L26 -3 L28 -1 L30 0 M30 -14 L33 -14 L35 -13 M46 0 L46 -14 L42 -14 M45 -14 L45 0 M57 0 L57 -11 L56 -13 L53 -14 L51 -14 L48 -13 L46 -11 M56 0 L56 -11 L55 -13 L53 -14 M53 0 L60 0 M42 0 L49 0 M68 -21 L68 -4 L69 -1 L70 0 L68 -1 L67 -4 L67 -21 M64 -14 L72 -14 M75 -3 L74 -1 L72 0 L70 0 M83 0 L83 -14 L79 -14 M82 -14 L82 0 M79 0 L86 0 M83 -8 L84 -11 L86 -13 L88 -14 L91 -14 L92 -13 L92 -12 L91 -11 L90 -12 L91 -13 M108 -12 L108 -3 L106 -1 L104 0 L101 0 L98 -1 L97 -3 L97 -5 L98 -7 L101 -8 L107 -9 L108 -10 M108 -12 L109 -10 L109 -3 L110 -1 L111 0 L109 -1 L108 -3 M108 -12 L107 -13 L105 -14 L101 -14 L99 -13 L98 -12 L98 -11 L99 -11 L99 -12 M101 -8 L99 -7 L98 -5 L98 -3 L99 -1 L101 0 M111 0 L112 0 M120 0 L120 -21 L116 -21 M119 -21 L119 0 M116 0 L123 0 M158 -18 L159 -21 L159 -15 L158 -18 L156 -20 L153 -21 L151 -21 L148 -20 L146 -18 L145 -16 L144 -13 L144 -8 L145 -5 L146 -3 L148 -1 L151 0 L153 0 L156 -1 L158 -3 L159 -5 M151 -21 L149 -20 L147 -18 L146 -16 L145 -13 L145 -8 L146 -5 L147 -3 L149 -1 L151 0 M184 -21 L184 0 M183 -21 L183 0 M180 0 L196 0 L196 -6 L195 0 M180 -21 L196 -21 L196 -15 L195 -21 M190 -15 L190 -7 M184 -11 L190 -11 M215 -14 L203 0 M204 -14 L215 0 M203 -14 L214 0 M211 0 L217 0 M211 -14 L217 -14 M201 0 L207 0 M201 -14 L207 -14 M225 0 L225 -21 L221 -21 M224 -21 L224 0 M236 0 L236 -11 L235 -13 L232 -14 L230 -14 L227 -13 L225 -11 M235 0 L235 -11 L234 -13 L232 -14 M232 0 L239 0 M221 0 L228 0 M255 -12 L255 -3 L253 -1 L251 0 L248 0 L245 -1 L244 -3 L244 -5 L245 -7 L248 -8 L254 -9 L255 -10 M255 -12 L256 -10 L256 -3 L257 -1 L258 0 L256 -1 L255 -3 M255 -12 L254 -13 L252 -14 L248 -14 L246 -13 L245 -12 L245 -11 L246 -11 L246 -12 M248 -8 L246 -7 L245 -5 L245 -3 L246 -1 L248 0 M258 0 L259 0 M278 0 L278 -14 L274 -14 M277 -14 L277 0 L281 0 M266 -14 L266 -3 L267 -1 L270 0 L268 -1 L267 -3 L267 -14 L263 -14 M270 0 L272 0 L275 -1 L277 -3 M296 -12 L297 -14 L297 -10 L296 -12 L295 -13 L293 -14 L289 -14 L287 -13 L286 -12 L286 -10 L287 -9 L289 -8 L294 -6 L296 -5 L297 -4 M287 -2 L286 0 L286 -4 L287 -2 L288 -1 L290 0 L294 0 L296 -1 L297 -2 L297 -5 L296 -6 L294 -7 L289 -9 L287 -10 L286 -11 M306 -21 L306 -4 L307 -1 L308 0 L306 -1 L305 -4 L305 -21 M302 -14 L310 -14 M313 -3 L312 -1 L310 0 L308 0 M321 0 L321 -14 L317 -14 M320 -14 L320 0 M317 0 L324 0 M321 -20 L320 -19 L319 -20 L320 -21 L321 -20 M337 0 L340 -1 L342 -3 L343 -6 L343 -8 L342 -11 L340 -13 L337 -14 L335 -14 L332 -13 L330 -11 L329 -8 L329 -6 L330 -3 L332 -1 L335 0 L337 0 L339 -1 L341 -3 L342 -6 L342 -8 L341 -11 L339 -13 L337 -14 M335 -14 L333 -13 L331 -11 L330 -8 L330 -6 L331 -3 L333 -1 L335 0 M352 0 L352 -14 L348 -14 M351 -14 L351 0 M363 0 L363 -11 L362 -13 L359 -14 L357 -14 L354 -13 L352 -11 M362 0 L362 -11 L361 -13 L359 -14 M359 0 L366 0 M348 0 L355 0" fill="none" stroke="#000" stroke-width="1.15" vector-effect="non-scaling-stroke" stroke-linecap="round" stroke-linejoin="round"/>
<path d="M122.2 74.0 H171.3" stroke="#000" stroke-width="3.6" stroke-dasharray="1.6 3.95" fill="none"/>
<path d="M122.1 100.85 H171.3" stroke="#2200ff" stroke-width="3.3" stroke-dasharray="8.3 7.7" fill="none"/>
<path d="M122.1 127.5 H171.3" stroke="#00f492" stroke-width="3.3" stroke-dasharray="8.4 3.7 1.9 3.8" fill="none"/>
<path d="M122.1 154.1 H171.3" stroke="#ff0000" stroke-width="3.3" fill="none"/>
<path transform="translate(183.35 431.20) scale(0.46 0.46)" d="M19 -21 L12 0 L5 -21 L5 0 M19 -21 L19 0 M19 -21 L23 -21 M20 -21 L20 0 M12 -3 L6 -21 L2 -21 M16 0 L23 0 M2 0 L8 0" fill="none" stroke="#000" stroke-width="1.15" vector-effect="non-scaling-stroke" stroke-linecap="round" stroke-linejoin="round"/>
<path transform="translate(195.04 434.60) scale(0.28 0.295)" d="M6 0 L6 -14 L2 -14 M5 -14 L5 0 M2 0 L9 0 M6 -20 L5 -19 L4 -20 L5 -21 L6 -20 M17 0 L17 -14 L13 -14 M16 -14 L16 0 M28 0 L28 -11 L27 -13 L24 -14 L22 -14 L19 -13 L17 -11 M27 0 L27 -11 L26 -13 L24 -14 M24 0 L31 0 M13 0 L20 0 M39 0 L39 -14 L35 -14 M38 -14 L38 0 M35 0 L42 0 M39 -20 L38 -19 L37 -20 L38 -21 L39 -20 M50 -21 L50 -4 L51 -1 L52 0 L50 -1 L49 -4 L49 -21 M46 -14 L54 -14 M57 -3 L56 -1 L54 0 L52 0" fill="none" stroke="#000" stroke-width="1.2" vector-effect="non-scaling-stroke" stroke-linecap="round" stroke-linejoin="round"/>
<path transform="translate(211.94 431.20) scale(0.46 0.46)" d="M4 -6 L22 -6 M4 -12 L22 -12" fill="none" stroke="#000" stroke-width="1.15" vector-effect="non-scaling-stroke" stroke-linecap="round" stroke-linejoin="round"/>
<path transform="translate(223.12 431.20) scale(0.428 0.46)" d="M13 0 L13 -21 L2 -6 L18 -6 M12 -19 L12 0 M9 0 L16 0 M31 0 L34 -1 L36 -4 L37 -9 L37 -12 L36 -17 L34 -20 L31 -21 L29 -21 L26 -20 L24 -17 L23 -12 L23 -9 L24 -4 L26 -1 L29 0 L27 -1 L26 -2 L25 -4 L24 -9 L24 -12 L25 -17 L26 -19 L27 -20 L29 -21 M31 0 L29 0 M31 0 L33 -1 L34 -2 L35 -4 L36 -9 L36 -12 L35 -17 L34 -19 L33 -20 L31 -21" fill="none" stroke="#000" stroke-width="1.15" vector-effect="non-scaling-stroke" stroke-linecap="round" stroke-linejoin="round"/>
<path transform="translate(239.56 431.20) scale(0.46 0.46)" d="M19 -21 L12 0 L5 -21 L5 0 M19 -21 L19 0 M19 -21 L23 -21 M20 -21 L20 0 M12 -3 L6 -21 L2 -21 M16 0 L23 0 M2 0 L8 0" fill="none" stroke="#000" stroke-width="1.15" vector-effect="non-scaling-stroke" stroke-linecap="round" stroke-linejoin="round"/>
<circle cx="257.10" cy="431.70" r="3.10" fill="none" stroke="#000" stroke-width="1.15"/><circle cx="257.10" cy="431.70" r="0.87" fill="#000"/>
<path transform="translate(261.84 431.20) scale(0.46 0.46)" d="M4 4 L5 3 L6 1 L6 -1 L5 -2 L4 -1 L5 0 M6 -13 L5 -12 L4 -13 L5 -14 L6 -13" fill="none" stroke="#000" stroke-width="1.15" vector-effect="non-scaling-stroke" stroke-linecap="round" stroke-linejoin="round"/>
<path transform="translate(272.89 431.20) scale(0.46 0.46)" d="M4 0 L17 -21 L3 -21 L3 -15 L4 -21 M16 -21 L3 0 L17 0 L17 -6 L16 0" fill="none" stroke="#000" stroke-width="1.15" vector-effect="non-scaling-stroke" stroke-linecap="round" stroke-linejoin="round"/>
<path transform="translate(282.94 434.60) scale(0.28 0.295)" d="M6 0 L6 -14 L2 -14 M5 -14 L5 0 M2 0 L9 0 M6 -20 L5 -19 L4 -20 L5 -21 L6 -20 M17 0 L17 -14 L13 -14 M16 -14 L16 0 M28 0 L28 -11 L27 -13 L24 -14 L22 -14 L19 -13 L17 -11 M27 0 L27 -11 L26 -13 L24 -14 M24 0 L31 0 M13 0 L20 0 M39 0 L39 -14 L35 -14 M38 -14 L38 0 M35 0 L42 0 M39 -20 L38 -19 L37 -20 L38 -21 L39 -20 M50 -21 L50 -4 L51 -1 L52 0 L50 -1 L49 -4 L49 -21 M46 -14 L54 -14 M57 -3 L56 -1 L54 0 L52 0" fill="none" stroke="#000" stroke-width="1.2" vector-effect="non-scaling-stroke" stroke-linecap="round" stroke-linejoin="round"/>
<path transform="translate(299.24 431.20) scale(0.46 0.46)" d="M4 -6 L22 -6 M4 -12 L22 -12" fill="none" stroke="#000" stroke-width="1.15" vector-effect="non-scaling-stroke" stroke-linecap="round" stroke-linejoin="round"/>
<path transform="translate(310.92 431.20) scale(0.46 0.46)" d="M11 0 L11 -21 L8 -18 L6 -17 M10 -20 L10 0 M6 0 L15 0 M31 0 L34 -1 L36 -4 L37 -9 L37 -12 L36 -17 L34 -20 L31 -21 L29 -21 L26 -20 L24 -17 L23 -12 L23 -9 L24 -4 L26 -1 L29 0 L27 -1 L26 -2 L25 -4 L24 -9 L24 -12 L25 -17 L26 -19 L27 -20 L29 -21 M31 0 L29 0 M31 0 L33 -1 L34 -2 L35 -4 L36 -9 L36 -12 L35 -17 L34 -19 L33 -20 L31 -21" fill="none" stroke="#000" stroke-width="1.15" vector-effect="non-scaling-stroke" stroke-linecap="round" stroke-linejoin="round"/>
<path transform="translate(330.00 424.60) scale(0.275 0.28)" d="M4 -9 L22 -9 M31 -20 L36 -20 L41 -21 L31 -21 L29 -11 L31 -13 L34 -14 L37 -14 L40 -13 L42 -11 L43 -8 L43 -6 L42 -3 L40 -1 L37 0 L34 0 L31 -1 L30 -2 L29 -4 L29 -5 L30 -6 L31 -5 L30 -4 M37 0 L39 -1 L41 -3 L42 -6 L42 -8 L41 -11 L39 -13 L37 -14" fill="none" stroke="#000" stroke-width="1.2" vector-effect="non-scaling-stroke" stroke-linecap="round" stroke-linejoin="round"/>
<path transform="translate(183.72 466.40) scale(0.46 0.46)" d="M17 -21 L10 0 L3 -21 M4 -21 L10 -3 M13 -21 L19 -21 M1 -21 L7 -21" fill="none" stroke="#000" stroke-width="1.15" vector-effect="non-scaling-stroke" stroke-linecap="round" stroke-linejoin="round"/>
<path transform="translate(193.64 469.70) scale(0.28 0.295)" d="M6 0 L6 -14 L2 -14 M5 -14 L5 0 M2 0 L9 0 M6 -20 L5 -19 L4 -20 L5 -21 L6 -20 M17 0 L17 -14 L13 -14 M16 -14 L16 0 M28 0 L28 -11 L27 -13 L24 -14 L22 -14 L19 -13 L17 -11 M27 0 L27 -11 L26 -13 L24 -14 M24 0 L31 0 M13 0 L20 0 M39 0 L39 -14 L35 -14 M38 -14 L38 0 M35 0 L42 0 M39 -20 L38 -19 L37 -20 L38 -21 L39 -20 M50 -21 L50 -4 L51 -1 L52 0 L50 -1 L49 -4 L49 -21 M46 -14 L54 -14 M57 -3 L56 -1 L54 0 L52 0" fill="none" stroke="#000" stroke-width="1.2" vector-effect="non-scaling-stroke" stroke-linecap="round" stroke-linejoin="round"/>
<path transform="translate(208.25 466.40) scale(0.46 0.46)" d="M20 -25 L2 7" fill="none" stroke="#000" stroke-width="1.15" vector-effect="non-scaling-stroke" stroke-linecap="round" stroke-linejoin="round"/>
<path transform="translate(218.81 466.40) scale(0.46 0.46)" d="M17 -21 L10 0 L3 -21 M4 -21 L10 -3 M13 -21 L19 -21 M1 -21 L7 -21" fill="none" stroke="#000" stroke-width="1.15" vector-effect="non-scaling-stroke" stroke-linecap="round" stroke-linejoin="round"/>
<path transform="translate(229.14 469.70) scale(0.28 0.295)" d="M6 -21 L6 0 M5 -21 L5 0 M19 -21 L6 -8 M11 -12 L19 0 M10 -12 L18 0 M2 0 L9 0 M2 -21 L9 -21 M15 0 L21 0 M15 -21 L21 -21 M26 -8 L38 -8 L38 -10 L37 -12 L36 -13 L37 -11 L37 -8 M26 -8 L27 -11 L29 -13 L31 -14 L28 -13 L26 -11 L25 -8 L25 -6 L26 -3 L28 -1 L31 0 L33 0 L36 -1 L38 -3 M26 -8 L26 -6 L27 -3 L29 -1 L31 0 M31 -14 L34 -14 L36 -13 M47 7 L47 -14 L43 -14 M46 -14 L46 7 M43 7 L50 7 M53 0 L56 -1 L58 -3 L59 -6 L59 -8 L58 -11 L56 -13 L53 -14 L51 -14 L49 -13 L47 -11 M53 0 L51 0 L49 -1 L47 -3 M53 0 L55 -1 L57 -3 L58 -6 L58 -8 L57 -11 L55 -13 L53 -14" fill="none" stroke="#000" stroke-width="1.2" vector-effect="non-scaling-stroke" stroke-linecap="round" stroke-linejoin="round"/>
<path transform="translate(246.74 466.40) scale(0.46 0.46)" d="M4 -6 L22 -6 M4 -12 L22 -12" fill="none" stroke="#000" stroke-width="1.15" vector-effect="non-scaling-stroke" stroke-linecap="round" stroke-linejoin="round"/>
<path transform="translate(257.89 466.40) scale(0.46 0.46)" d="M11 0 L14 -1 L16 -4 L17 -9 L17 -12 L16 -17 L14 -20 L11 -21 L9 -21 L6 -20 L4 -17 L3 -12 L3 -9 L4 -4 L6 -1 L9 0 L7 -1 L6 -2 L5 -4 L4 -9 L4 -12 L5 -17 L6 -19 L7 -20 L9 -21 M11 0 L9 0 M11 0 L13 -1 L14 -2 L15 -4 L16 -9 L16 -12 L15 -17 L14 -19 L13 -20 L11 -21 M26 -1 L25 0 L24 -1 L25 -2 L26 -1 M35 -20 L40 -20 L45 -21 L35 -21 L33 -11 L35 -13 L38 -14 L41 -14 L44 -13 L46 -11 L47 -8 L47 -6 L46 -3 L44 -1 L41 0 L38 0 L35 -1 L34 -2 L33 -4 L33 -5 L34 -6 L35 -5 L34 -4 M41 0 L43 -1 L45 -3 L46 -6 L46 -8 L45 -11 L43 -13 L41 -14" fill="none" stroke="#000" stroke-width="1.15" vector-effect="non-scaling-stroke" stroke-linecap="round" stroke-linejoin="round"/>
<path transform="translate(475.45 431.10) scale(0.6 0.59)" d="M6 -14 L6 4 L5 6 L4 7 L6 6 L7 4 L7 -14 L3 -14 M4 7 L2 7 L1 6 L1 5 L2 4 L3 5 L2 6 M7 -20 L6 -19 L5 -20 L6 -21 L7 -20" fill="none" stroke="#000" stroke-width="1.3" vector-effect="non-scaling-stroke" stroke-linecap="round" stroke-linejoin="round"/>
<path transform="translate(483.12 435.50) scale(0.365 0.365)" d="M6 -21 L6 0 M5 -21 L5 0 M2 0 L17 0 L17 -6 L16 0 M2 -21 L9 -21 M35 -7 L35 -3 L33 -1 L30 0 L27 0 L24 -1 L22 -3 L21 0 L21 -6 L22 -3 M35 -7 L33 -9 L31 -10 L25 -12 L23 -13 L22 -14 L21 -16 L23 -14 L25 -13 L31 -11 L33 -10 L34 -9 L35 -7 M34 -18 L35 -21 L35 -15 L34 -18 L32 -20 L29 -21 L26 -21 L23 -20 L21 -18 L21 -16 M50 0 L53 -1 L55 -3 L56 -5 L57 -9 L57 -12 L56 -16 L55 -18 L53 -20 L50 -21 L48 -21 L45 -20 L43 -18 L42 -16 L41 -12 L41 -9 L42 -5 L43 -3 L45 -1 L48 0 L50 0 L52 -1 L54 -3 L55 -5 L56 -9 L56 -12 L55 -16 L54 -18 L52 -20 L50 -21 M48 -21 L46 -20 L44 -18 L43 -16 L42 -12 L42 -9 L43 -5 L44 -3 L46 -1 L48 0 M64 4 L65 3 L66 1 L66 -1 L65 -2 L64 -1 L65 0" fill="none" stroke="#000" stroke-width="1.1" vector-effect="non-scaling-stroke" stroke-linecap="round" stroke-linejoin="round"/>
<path transform="translate(513.86 435.50) scale(0.365 0.365)" d="M17 -7 L17 -3 L15 -1 L12 0 L9 0 L6 -1 L4 -3 L3 0 L3 -6 L4 -3 M17 -7 L15 -9 L13 -10 L7 -12 L5 -13 L4 -14 L3 -16 L5 -14 L7 -13 L13 -11 L15 -10 L16 -9 L17 -7 M16 -18 L17 -21 L17 -15 L16 -18 L14 -20 L11 -21 L8 -21 L5 -20 L3 -18 L3 -16 M29 -14 L26 -13 L24 -11 L23 -8 L23 -6 L24 -3 L26 -1 L29 0 L31 0 L34 -1 L36 -3 M29 -14 L32 -14 L34 -13 L36 -11 L36 -10 L35 -9 L34 -10 L35 -11 M29 -14 L27 -13 L25 -11 L24 -8 L24 -6 L25 -3 L27 -1 L29 0 M45 0 L45 -21 L41 -21 M44 -21 L44 0 M56 0 L56 -11 L55 -13 L52 -14 L50 -14 L47 -13 L45 -11 M55 0 L55 -11 L54 -13 L52 -14 M52 0 L59 0 M41 0 L48 0 M81 -14 L77 0 L73 -14 L69 0 L65 -14 M74 -14 L77 -3 M66 -14 L69 -3 M62 -14 L69 -14 M78 -14 L84 -14 M99 -12 L99 -3 L97 -1 L95 0 L92 0 L89 -1 L88 -3 L88 -5 L89 -7 L92 -8 L98 -9 L99 -10 M99 -12 L100 -10 L100 -3 L101 -1 L102 0 L100 -1 L99 -3 M99 -12 L98 -13 L96 -14 L92 -14 L90 -13 L89 -12 L89 -11 L90 -11 L90 -12 M92 -8 L90 -7 L89 -5 L89 -3 L90 -1 L92 0 M102 0 L103 0 M111 0 L111 -14 L107 -14 M110 -14 L110 0 M107 0 L114 0 M111 -8 L112 -11 L114 -13 L116 -14 L119 -14 L120 -13 L120 -12 L119 -11 L118 -12 L119 -13 M126 0 L137 -14 L125 -14 L125 -10 L126 -14 M136 -14 L125 0 L137 0 L137 -4 L136 0 M153 -12 L154 -14 L154 -10 L153 -12 L152 -13 L150 -14 L146 -14 L144 -13 L143 -12 L143 -10 L144 -9 L146 -8 L151 -6 L153 -5 L154 -4 M144 -2 L143 0 L143 -4 L144 -2 L145 -1 L147 0 L151 0 L153 -1 L154 -2 L154 -5 L153 -6 L151 -7 L146 -9 L144 -10 L143 -11 M166 -14 L163 -13 L161 -11 L160 -8 L160 -6 L161 -3 L163 -1 L166 0 L168 0 L171 -1 L173 -3 M166 -14 L169 -14 L171 -13 L173 -11 L173 -10 L172 -9 L171 -10 L172 -11 M166 -14 L164 -13 L162 -11 L161 -8 L161 -6 L162 -3 L164 -1 L166 0 M182 0 L182 -21 L178 -21 M181 -21 L181 0 M193 0 L193 -11 L192 -13 L189 -14 L187 -14 L184 -13 L182 -11 M192 0 L192 -11 L191 -13 L189 -14 M189 0 L196 0 M178 0 L185 0 M204 0 L204 -14 L200 -14 M203 -14 L203 0 M200 0 L207 0 M204 -20 L203 -19 L202 -20 L203 -21 L204 -20 M215 0 L215 -21 L211 -21 M214 -21 L214 0 M211 0 L218 0 M236 0 L236 -21 L232 -21 M235 -21 L235 0 L239 0 M229 -14 L226 -13 L224 -11 L223 -8 L223 -6 L224 -3 L226 -1 L229 0 L231 0 L233 -1 L235 -3 M229 -14 L231 -14 L233 -13 L235 -11 M229 -14 L227 -13 L225 -11 L224 -8 L224 -6 L225 -3 L227 -1 L229 0" fill="none" stroke="#000" stroke-width="1.1" vector-effect="non-scaling-stroke" stroke-linecap="round" stroke-linejoin="round"/>
<path transform="translate(475.45 466.90) scale(0.6 0.59)" d="M6 -14 L6 4 L5 6 L4 7 L6 6 L7 4 L7 -14 L3 -14 M4 7 L2 7 L1 6 L1 5 L2 4 L3 5 L2 6 M7 -20 L6 -19 L5 -20 L6 -21 L7 -20" fill="none" stroke="#000" stroke-width="1.3" vector-effect="non-scaling-stroke" stroke-linecap="round" stroke-linejoin="round"/>
<path transform="translate(483.12 471.30) scale(0.365 0.365)" d="M6 -21 L6 0 M5 -21 L5 0 M2 0 L17 0 L17 -6 L16 0 M2 -21 L9 -21 M35 -7 L35 -3 L33 -1 L30 0 L27 0 L24 -1 L22 -3 L21 0 L21 -6 L22 -3 M35 -7 L33 -9 L31 -10 L25 -12 L23 -13 L22 -14 L21 -16 L23 -14 L25 -13 L31 -11 L33 -10 L34 -9 L35 -7 M34 -18 L35 -21 L35 -15 L34 -18 L32 -20 L29 -21 L26 -21 L23 -20 L21 -18 L21 -16 M50 0 L53 -1 L55 -3 L56 -5 L57 -9 L57 -12 L56 -16 L55 -18 L53 -20 L50 -21 L48 -21 L45 -20 L43 -18 L42 -16 L41 -12 L41 -9 L42 -5 L43 -3 L45 -1 L48 0 L50 0 L52 -1 L54 -3 L55 -5 L56 -9 L56 -12 L55 -16 L54 -18 L52 -20 L50 -21 M48 -21 L46 -20 L44 -18 L43 -16 L42 -12 L42 -9 L43 -5 L44 -3 L46 -1 L48 0 M64 4 L65 3 L66 1 L66 -1 L65 -2 L64 -1 L65 0" fill="none" stroke="#000" stroke-width="1.1" vector-effect="non-scaling-stroke" stroke-linecap="round" stroke-linejoin="round"/>
<path transform="translate(514.22 471.30) scale(0.365 0.365)" d="M6 -21 L6 0 M5 -21 L5 0 M19 -21 L6 -8 M11 -12 L19 0 M10 -12 L18 0 M2 0 L9 0 M2 -21 L9 -21 M15 0 L21 0 M15 -21 L21 -21 M26 -8 L38 -8 L38 -10 L37 -12 L36 -13 L37 -11 L37 -8 M26 -8 L27 -11 L29 -13 L31 -14 L28 -13 L26 -11 L25 -8 L25 -6 L26 -3 L28 -1 L31 0 L33 0 L36 -1 L38 -3 M26 -8 L26 -6 L27 -3 L29 -1 L31 0 M31 -14 L34 -14 L36 -13 M47 0 L47 -14 L43 -14 M46 -14 L46 0 M43 0 L50 0 M47 -8 L48 -11 L50 -13 L52 -14 L55 -14 L56 -13 L56 -12 L55 -11 L54 -12 L55 -13 M64 0 L64 -14 L60 -14 M63 -14 L63 0 M60 0 L67 0 M64 -8 L65 -11 L67 -13 L69 -14 L72 -14 L73 -13 L73 -12 L72 -11 L71 -12 L72 -13" fill="none" stroke="#000" stroke-width="1.1" vector-effect="non-scaling-stroke" stroke-linecap="round" stroke-linejoin="round"/>
<path d="M402.8 430.8 H459.9" stroke="#5c2e61" stroke-width="1.5" stroke-dasharray="12 3.8 1.9 4.1 1.9 4.1 1.9 3.8" fill="none"/>
<path d="M402.8 466.3 H463.9" stroke="#5c2e61" stroke-width="1.5" stroke-dasharray="15.9 7.7" fill="none"/>
</svg>
</body></html>
